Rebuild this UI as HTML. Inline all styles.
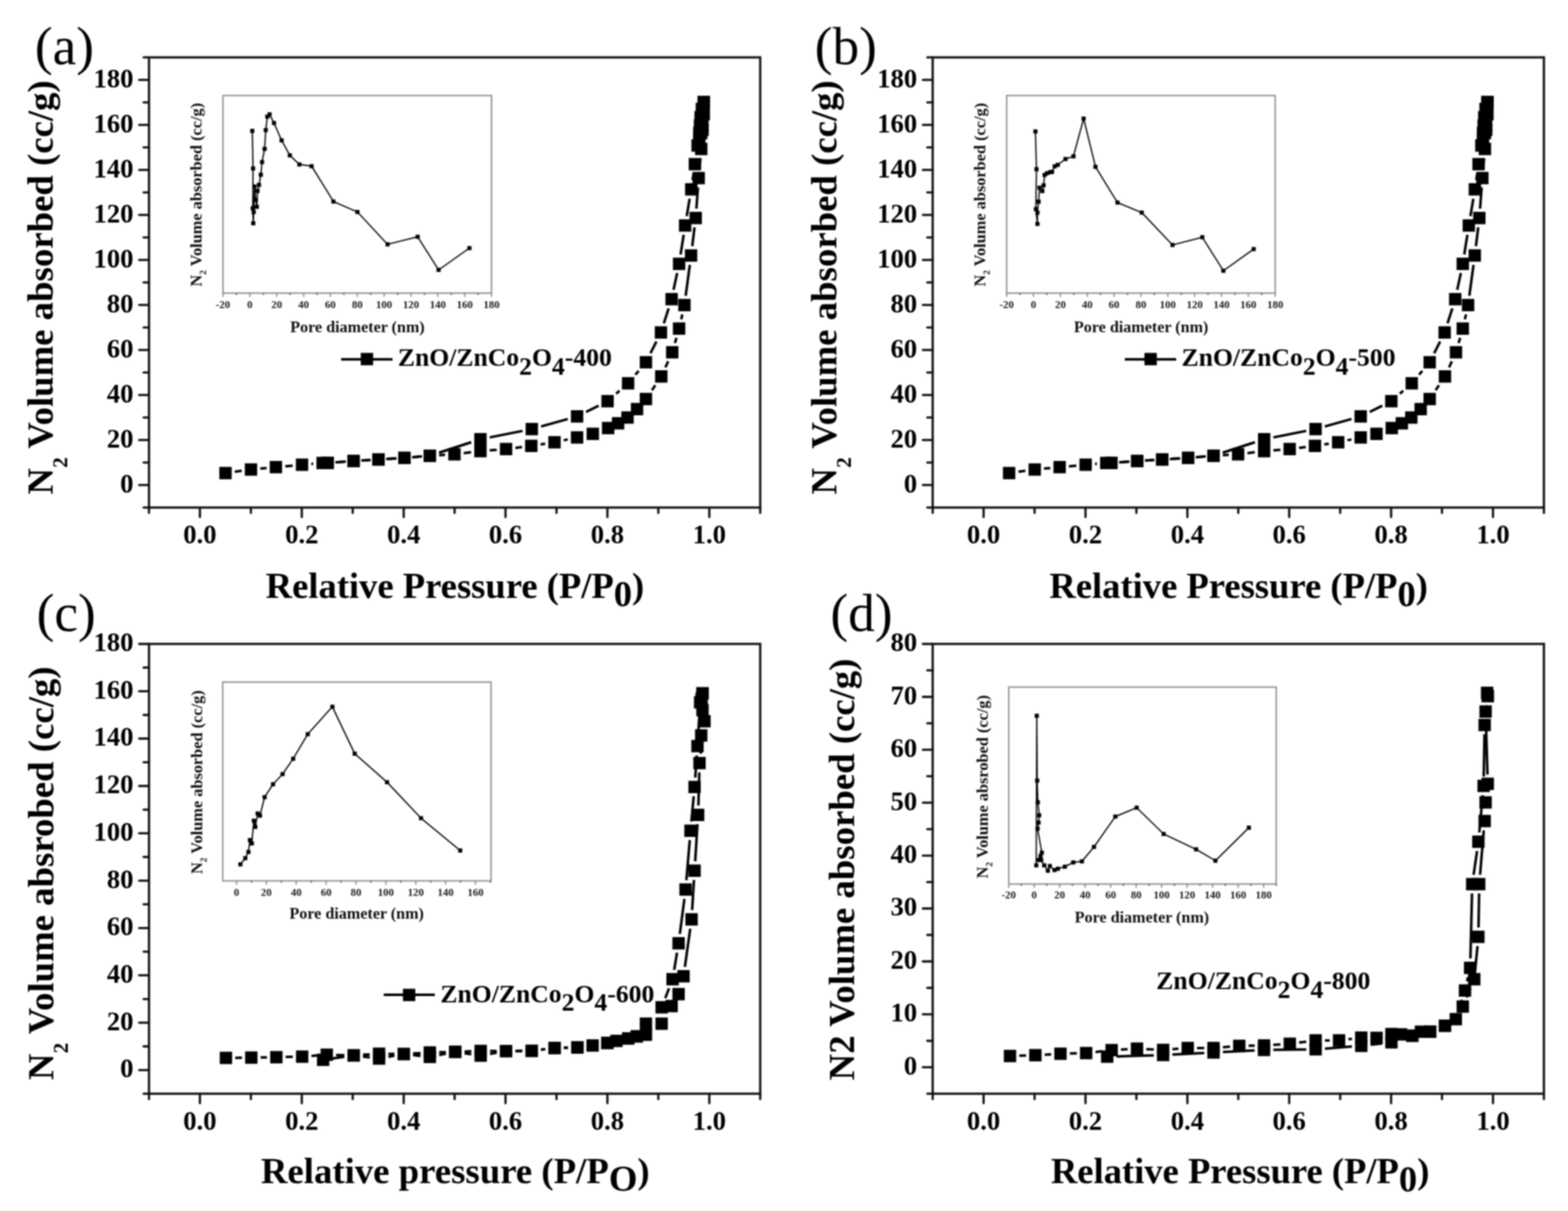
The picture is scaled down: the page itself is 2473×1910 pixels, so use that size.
<!DOCTYPE html>
<html><head><meta charset="utf-8"><title>N2 adsorption isotherms</title>
<style>html,body{margin:0;padding:0;background:#fff;}body{width:2473px;height:1910px;overflow:hidden;}svg{display:block;filter:blur(0.9px);}</style>
</head><body>
<svg width="2473" height="1910" viewBox="0 0 2473 1910" font-family="'Liberation Serif','Times New Roman',serif">
<rect width="2473" height="1910" fill="#fff"/>
<rect x="235.0" y="90.5" width="964.0" height="710.0" fill="none" stroke="#141414" stroke-width="3.6"/>
<line x1="235.0" y1="800.5" x2="235.0" y2="809.0" stroke="#141414" stroke-width="3.6" stroke-linecap="round"/>
<line x1="315.3" y1="800.5" x2="315.3" y2="815.5" stroke="#141414" stroke-width="3.6" stroke-linecap="round"/>
<text x="315.3" y="857.0" font-size="42" font-weight="bold" text-anchor="middle">0.0</text>
<line x1="395.7" y1="800.5" x2="395.7" y2="809.0" stroke="#141414" stroke-width="3.6" stroke-linecap="round"/>
<line x1="476.0" y1="800.5" x2="476.0" y2="815.5" stroke="#141414" stroke-width="3.6" stroke-linecap="round"/>
<text x="476.0" y="857.0" font-size="42" font-weight="bold" text-anchor="middle">0.2</text>
<line x1="556.3" y1="800.5" x2="556.3" y2="809.0" stroke="#141414" stroke-width="3.6" stroke-linecap="round"/>
<line x1="636.7" y1="800.5" x2="636.7" y2="815.5" stroke="#141414" stroke-width="3.6" stroke-linecap="round"/>
<text x="636.7" y="857.0" font-size="42" font-weight="bold" text-anchor="middle">0.4</text>
<line x1="717.0" y1="800.5" x2="717.0" y2="809.0" stroke="#141414" stroke-width="3.6" stroke-linecap="round"/>
<line x1="797.3" y1="800.5" x2="797.3" y2="815.5" stroke="#141414" stroke-width="3.6" stroke-linecap="round"/>
<text x="797.3" y="857.0" font-size="42" font-weight="bold" text-anchor="middle">0.6</text>
<line x1="877.7" y1="800.5" x2="877.7" y2="809.0" stroke="#141414" stroke-width="3.6" stroke-linecap="round"/>
<line x1="958.0" y1="800.5" x2="958.0" y2="815.5" stroke="#141414" stroke-width="3.6" stroke-linecap="round"/>
<text x="958.0" y="857.0" font-size="42" font-weight="bold" text-anchor="middle">0.8</text>
<line x1="1038.3" y1="800.5" x2="1038.3" y2="809.0" stroke="#141414" stroke-width="3.6" stroke-linecap="round"/>
<line x1="1118.7" y1="800.5" x2="1118.7" y2="815.5" stroke="#141414" stroke-width="3.6" stroke-linecap="round"/>
<text x="1118.7" y="857.0" font-size="42" font-weight="bold" text-anchor="middle">1.0</text>
<line x1="1199.0" y1="800.5" x2="1199.0" y2="809.0" stroke="#141414" stroke-width="3.6" stroke-linecap="round"/>
<line x1="219.5" y1="765.0" x2="235.0" y2="765.0" stroke="#141414" stroke-width="3.6" stroke-linecap="round"/>
<text x="210.5" y="776.5" font-size="42" font-weight="bold" text-anchor="end">0</text>
<line x1="219.5" y1="694.0" x2="235.0" y2="694.0" stroke="#141414" stroke-width="3.6" stroke-linecap="round"/>
<text x="210.5" y="705.5" font-size="42" font-weight="bold" text-anchor="end">20</text>
<line x1="219.5" y1="623.0" x2="235.0" y2="623.0" stroke="#141414" stroke-width="3.6" stroke-linecap="round"/>
<text x="210.5" y="634.5" font-size="42" font-weight="bold" text-anchor="end">40</text>
<line x1="219.5" y1="552.0" x2="235.0" y2="552.0" stroke="#141414" stroke-width="3.6" stroke-linecap="round"/>
<text x="210.5" y="563.5" font-size="42" font-weight="bold" text-anchor="end">60</text>
<line x1="219.5" y1="481.0" x2="235.0" y2="481.0" stroke="#141414" stroke-width="3.6" stroke-linecap="round"/>
<text x="210.5" y="492.5" font-size="42" font-weight="bold" text-anchor="end">80</text>
<line x1="219.5" y1="410.0" x2="235.0" y2="410.0" stroke="#141414" stroke-width="3.6" stroke-linecap="round"/>
<text x="210.5" y="421.5" font-size="42" font-weight="bold" text-anchor="end">100</text>
<line x1="219.5" y1="339.0" x2="235.0" y2="339.0" stroke="#141414" stroke-width="3.6" stroke-linecap="round"/>
<text x="210.5" y="350.5" font-size="42" font-weight="bold" text-anchor="end">120</text>
<line x1="219.5" y1="268.0" x2="235.0" y2="268.0" stroke="#141414" stroke-width="3.6" stroke-linecap="round"/>
<text x="210.5" y="279.5" font-size="42" font-weight="bold" text-anchor="end">140</text>
<line x1="219.5" y1="197.0" x2="235.0" y2="197.0" stroke="#141414" stroke-width="3.6" stroke-linecap="round"/>
<text x="210.5" y="208.5" font-size="42" font-weight="bold" text-anchor="end">160</text>
<line x1="219.5" y1="126.0" x2="235.0" y2="126.0" stroke="#141414" stroke-width="3.6" stroke-linecap="round"/>
<text x="210.5" y="137.5" font-size="42" font-weight="bold" text-anchor="end">180</text>
<line x1="226.5" y1="800.5" x2="235.0" y2="800.5" stroke="#141414" stroke-width="3.6" stroke-linecap="round"/>
<line x1="226.5" y1="729.5" x2="235.0" y2="729.5" stroke="#141414" stroke-width="3.6" stroke-linecap="round"/>
<line x1="226.5" y1="658.5" x2="235.0" y2="658.5" stroke="#141414" stroke-width="3.6" stroke-linecap="round"/>
<line x1="226.5" y1="587.5" x2="235.0" y2="587.5" stroke="#141414" stroke-width="3.6" stroke-linecap="round"/>
<line x1="226.5" y1="516.5" x2="235.0" y2="516.5" stroke="#141414" stroke-width="3.6" stroke-linecap="round"/>
<line x1="226.5" y1="445.5" x2="235.0" y2="445.5" stroke="#141414" stroke-width="3.6" stroke-linecap="round"/>
<line x1="226.5" y1="374.5" x2="235.0" y2="374.5" stroke="#141414" stroke-width="3.6" stroke-linecap="round"/>
<line x1="226.5" y1="303.5" x2="235.0" y2="303.5" stroke="#141414" stroke-width="3.6" stroke-linecap="round"/>
<line x1="226.5" y1="232.5" x2="235.0" y2="232.5" stroke="#141414" stroke-width="3.6" stroke-linecap="round"/>
<line x1="226.5" y1="161.5" x2="235.0" y2="161.5" stroke="#141414" stroke-width="3.6" stroke-linecap="round"/>
<line x1="226.5" y1="90.5" x2="235.0" y2="90.5" stroke="#141414" stroke-width="3.6" stroke-linecap="round"/>
<text x="55.0" y="101" font-size="84">(a)</text>
<text transform="translate(82.5,780) rotate(-90)" font-size="58" font-weight="bold">N<tspan font-size="34" dy="23">2</tspan><tspan dy="-23"> Volume absorbed (cc/g)</tspan></text>
<text x="419.0" y="943" font-size="57.7" font-weight="bold">Relative Pressure (P/P<tspan dy="13">0</tspan><tspan dy="-13">)</tspan></text>
<rect x="351.7" y="150.7" width="423.5" height="311.6" fill="none" stroke="#8c8c8c" stroke-width="2.2"/>
<line x1="351.7" y1="462.3" x2="351.7" y2="468.3" stroke="#8c8c8c" stroke-width="2"/>
<line x1="394.1" y1="462.3" x2="394.1" y2="468.3" stroke="#8c8c8c" stroke-width="2"/>
<line x1="436.4" y1="462.3" x2="436.4" y2="468.3" stroke="#8c8c8c" stroke-width="2"/>
<line x1="478.8" y1="462.3" x2="478.8" y2="468.3" stroke="#8c8c8c" stroke-width="2"/>
<line x1="521.1" y1="462.3" x2="521.1" y2="468.3" stroke="#8c8c8c" stroke-width="2"/>
<line x1="563.5" y1="462.3" x2="563.5" y2="468.3" stroke="#8c8c8c" stroke-width="2"/>
<line x1="605.8" y1="462.3" x2="605.8" y2="468.3" stroke="#8c8c8c" stroke-width="2"/>
<line x1="648.2" y1="462.3" x2="648.2" y2="468.3" stroke="#8c8c8c" stroke-width="2"/>
<line x1="690.5" y1="462.3" x2="690.5" y2="468.3" stroke="#8c8c8c" stroke-width="2"/>
<line x1="732.9" y1="462.3" x2="732.9" y2="468.3" stroke="#8c8c8c" stroke-width="2"/>
<line x1="775.2" y1="462.3" x2="775.2" y2="468.3" stroke="#8c8c8c" stroke-width="2"/>
<line x1="372.9" y1="462.3" x2="372.9" y2="465.3" stroke="#666" stroke-width="2.2"/>
<line x1="415.2" y1="462.3" x2="415.2" y2="465.3" stroke="#666" stroke-width="2.2"/>
<line x1="457.6" y1="462.3" x2="457.6" y2="465.3" stroke="#666" stroke-width="2.2"/>
<line x1="499.9" y1="462.3" x2="499.9" y2="465.3" stroke="#666" stroke-width="2.2"/>
<line x1="542.3" y1="462.3" x2="542.3" y2="465.3" stroke="#666" stroke-width="2.2"/>
<line x1="584.6" y1="462.3" x2="584.6" y2="465.3" stroke="#666" stroke-width="2.2"/>
<line x1="627.0" y1="462.3" x2="627.0" y2="465.3" stroke="#666" stroke-width="2.2"/>
<line x1="669.3" y1="462.3" x2="669.3" y2="465.3" stroke="#666" stroke-width="2.2"/>
<line x1="711.7" y1="462.3" x2="711.7" y2="465.3" stroke="#666" stroke-width="2.2"/>
<line x1="754.0" y1="462.3" x2="754.0" y2="465.3" stroke="#666" stroke-width="2.2"/>
<text x="351.7" y="485.5" font-size="17" font-weight="bold" text-anchor="middle" fill="#1a1a1a">-20</text>
<text x="394.1" y="485.5" font-size="17" font-weight="bold" text-anchor="middle" fill="#1a1a1a">0</text>
<text x="436.4" y="485.5" font-size="17" font-weight="bold" text-anchor="middle" fill="#1a1a1a">20</text>
<text x="478.8" y="485.5" font-size="17" font-weight="bold" text-anchor="middle" fill="#1a1a1a">40</text>
<text x="521.1" y="485.5" font-size="17" font-weight="bold" text-anchor="middle" fill="#1a1a1a">60</text>
<text x="563.5" y="485.5" font-size="17" font-weight="bold" text-anchor="middle" fill="#1a1a1a">80</text>
<text x="605.8" y="485.5" font-size="17" font-weight="bold" text-anchor="middle" fill="#1a1a1a">100</text>
<text x="648.2" y="485.5" font-size="17" font-weight="bold" text-anchor="middle" fill="#1a1a1a">120</text>
<text x="690.5" y="485.5" font-size="17" font-weight="bold" text-anchor="middle" fill="#1a1a1a">140</text>
<text x="732.9" y="485.5" font-size="17" font-weight="bold" text-anchor="middle" fill="#1a1a1a">160</text>
<text x="775.2" y="485.5" font-size="17" font-weight="bold" text-anchor="middle" fill="#1a1a1a">180</text>
<text x="563.8" y="524.0" font-size="25.4" font-weight="bold" text-anchor="middle" fill="#111">Pore diameter (nm)</text>
<polyline points="397.9,206.4 399.1,265.6 398.6,328.5 399.5,352.2 400.2,334.4 401.4,294.1 403.3,315.4 405.0,326.1 406.2,301.2 408.5,291.7 411.4,275.6 413.3,255.7 417.3,234.8 419.2,205.2 421.6,183.9 425.1,180.3 432.2,194.1 444.1,221.3 457.1,245.0 472.1,259.3 491.5,262.1 525.9,317.8 563.8,334.4 611.2,385.4 658.7,373.5 691.8,425.7 740.4,391.3" fill="none" stroke="#000" stroke-width="2.0" stroke-linejoin="round"/>
<rect x="394.6" y="203.2" width="6.5" height="6.5" fill="#000"/>
<rect x="395.9" y="262.4" width="6.5" height="6.5" fill="#000"/>
<rect x="395.4" y="325.2" width="6.5" height="6.5" fill="#000"/>
<rect x="396.2" y="348.9" width="6.5" height="6.5" fill="#000"/>
<rect x="396.9" y="331.1" width="6.5" height="6.5" fill="#000"/>
<rect x="398.1" y="290.9" width="6.5" height="6.5" fill="#000"/>
<rect x="400.1" y="312.1" width="6.5" height="6.5" fill="#000"/>
<rect x="401.8" y="322.9" width="6.5" height="6.5" fill="#000"/>
<rect x="402.9" y="297.9" width="6.5" height="6.5" fill="#000"/>
<rect x="405.2" y="288.4" width="6.5" height="6.5" fill="#000"/>
<rect x="408.1" y="272.4" width="6.5" height="6.5" fill="#000"/>
<rect x="410.1" y="252.4" width="6.5" height="6.5" fill="#000"/>
<rect x="414.1" y="231.6" width="6.5" height="6.5" fill="#000"/>
<rect x="415.9" y="201.9" width="6.5" height="6.5" fill="#000"/>
<rect x="418.4" y="180.7" width="6.5" height="6.5" fill="#000"/>
<rect x="421.9" y="177.1" width="6.5" height="6.5" fill="#000"/>
<rect x="428.9" y="190.8" width="6.5" height="6.5" fill="#000"/>
<rect x="440.9" y="218.1" width="6.5" height="6.5" fill="#000"/>
<rect x="453.9" y="241.8" width="6.5" height="6.5" fill="#000"/>
<rect x="468.9" y="256.1" width="6.5" height="6.5" fill="#000"/>
<rect x="488.2" y="258.9" width="6.5" height="6.5" fill="#000"/>
<rect x="522.6" y="314.6" width="6.5" height="6.5" fill="#000"/>
<rect x="560.5" y="331.1" width="6.5" height="6.5" fill="#000"/>
<rect x="608.0" y="382.1" width="6.5" height="6.5" fill="#000"/>
<rect x="655.5" y="370.2" width="6.5" height="6.5" fill="#000"/>
<rect x="688.5" y="422.4" width="6.5" height="6.5" fill="#000"/>
<rect x="737.1" y="388.1" width="6.5" height="6.5" fill="#000"/>
<text transform="translate(318.0,452.0) rotate(-90) scale(0.99,1)" font-size="26" font-weight="bold" fill="#111">N<tspan font-size="15" dy="7">2</tspan><tspan dy="-7"> Volume absorbed (cc/g)</tspan></text>
<line x1="538.0" y1="566.8" x2="619.0" y2="566.8" stroke="#000" stroke-width="4.0"/>
<rect x="569.0" y="556.6" width="19.5" height="19.5" fill="#000"/>
<text x="627.5" y="577.4" font-size="40.5" font-weight="bold">ZnO/ZnCo<tspan dy="13.6">2</tspan><tspan dy="-13.6">O</tspan><tspan dy="13.6">4</tspan><tspan dy="-13.6">-400</tspan></text>
<line x1="370.3" y1="744.1" x2="381.2" y2="742.5" stroke="#000" stroke-width="4.0"/>
<line x1="410.6" y1="739.1" x2="420.5" y2="738.2" stroke="#000" stroke-width="4.0"/>
<line x1="449.9" y1="735.4" x2="461.6" y2="734.4" stroke="#000" stroke-width="4.0"/>
<line x1="491.0" y1="731.7" x2="494.1" y2="731.5" stroke="#000" stroke-width="4.0"/>
<line x1="531.5" y1="729.1" x2="542.9" y2="728.2" stroke="#000" stroke-width="4.0"/>
<line x1="572.3" y1="726.2" x2="582.2" y2="725.5" stroke="#000" stroke-width="4.0"/>
<line x1="611.6" y1="723.8" x2="623.0" y2="723.1" stroke="#000" stroke-width="4.0"/>
<line x1="652.4" y1="721.0" x2="663.2" y2="720.0" stroke="#000" stroke-width="4.0"/>
<line x1="692.6" y1="717.9" x2="702.0" y2="717.3" stroke="#000" stroke-width="4.0"/>
<line x1="731.4" y1="714.7" x2="743.0" y2="713.3" stroke="#000" stroke-width="4.0"/>
<line x1="772.4" y1="710.3" x2="783.4" y2="709.5" stroke="#000" stroke-width="4.0"/>
<line x1="812.8" y1="706.5" x2="823.3" y2="705.1" stroke="#000" stroke-width="4.0"/>
<line x1="852.7" y1="701.0" x2="859.8" y2="699.8" stroke="#000" stroke-width="4.0"/>
<line x1="889.1" y1="694.4" x2="895.5" y2="693.1" stroke="#000" stroke-width="4.0"/>
<line x1="1028.2" y1="615.5" x2="1033.5" y2="607.7" stroke="#000" stroke-width="4.0"/>
<line x1="1049.4" y1="579.5" x2="1053.8" y2="569.9" stroke="#000" stroke-width="4.0"/>
<line x1="1064.5" y1="541.0" x2="1066.9" y2="532.9" stroke="#000" stroke-width="4.0"/>
<line x1="1074.4" y1="503.7" x2="1076.1" y2="495.8" stroke="#000" stroke-width="4.0"/>
<line x1="1081.4" y1="466.5" x2="1088.0" y2="417.7" stroke="#000" stroke-width="4.0"/>
<line x1="1091.8" y1="388.3" x2="1095.4" y2="358.5" stroke="#000" stroke-width="4.0"/>
<line x1="1098.3" y1="329.1" x2="1100.8" y2="295.5" stroke="#000" stroke-width="4.0"/>
<line x1="1103.2" y1="266.1" x2="1104.7" y2="249.7" stroke="#000" stroke-width="4.0"/>
<line x1="1093.9" y1="273.7" x2="1092.3" y2="284.0" stroke="#000" stroke-width="4.0"/>
<line x1="1087.7" y1="313.4" x2="1083.1" y2="340.9" stroke="#000" stroke-width="4.0"/>
<line x1="1078.3" y1="370.3" x2="1073.4" y2="401.4" stroke="#000" stroke-width="4.0"/>
<line x1="1068.0" y1="430.7" x2="1062.3" y2="457.2" stroke="#000" stroke-width="4.0"/>
<line x1="1054.6" y1="486.3" x2="1047.0" y2="509.9" stroke="#000" stroke-width="4.0"/>
<line x1="1035.3" y1="538.6" x2="1025.9" y2="557.2" stroke="#000" stroke-width="4.0"/>
<line x1="1007.3" y1="585.0" x2="1002.1" y2="590.9" stroke="#000" stroke-width="4.0"/>
<line x1="977.1" y1="616.3" x2="971.8" y2="621.0" stroke="#000" stroke-width="4.0"/>
<line x1="944.1" y1="639.9" x2="924.3" y2="649.7" stroke="#000" stroke-width="4.0"/>
<line x1="895.5" y1="660.9" x2="853.4" y2="672.6" stroke="#000" stroke-width="4.0"/>
<line x1="824.1" y1="679.6" x2="772.4" y2="689.9" stroke="#000" stroke-width="4.0"/>
<line x1="743.2" y1="697.5" x2="692.4" y2="714.0" stroke="#000" stroke-width="4.0"/>
<line x1="665.7" y1="719.8" x2="649.9" y2="721.2" stroke="#000" stroke-width="4.0"/>
<line x1="625.5" y1="723.0" x2="609.1" y2="723.9" stroke="#000" stroke-width="4.0"/>
<line x1="584.7" y1="725.4" x2="569.8" y2="726.3" stroke="#000" stroke-width="4.0"/>
<line x1="545.4" y1="728.0" x2="529.0" y2="729.3" stroke="#000" stroke-width="4.0"/>
<rect x="345.9" y="736.4" width="19.5" height="19.5" fill="#000"/>
<rect x="386.1" y="730.8" width="19.5" height="19.5" fill="#000"/>
<rect x="425.4" y="727.0" width="19.5" height="19.5" fill="#000"/>
<rect x="466.6" y="723.2" width="19.5" height="19.5" fill="#000"/>
<rect x="499.1" y="720.5" width="19.5" height="19.5" fill="#000"/>
<rect x="507.0" y="720.5" width="19.5" height="19.5" fill="#000"/>
<rect x="547.9" y="717.4" width="19.5" height="19.5" fill="#000"/>
<rect x="587.1" y="714.9" width="19.5" height="19.5" fill="#000"/>
<rect x="628.0" y="712.5" width="19.5" height="19.5" fill="#000"/>
<rect x="668.1" y="709.0" width="19.5" height="19.5" fill="#000"/>
<rect x="707.0" y="706.8" width="19.5" height="19.5" fill="#000"/>
<rect x="748.0" y="701.8" width="19.5" height="19.5" fill="#000"/>
<rect x="788.4" y="698.5" width="19.5" height="19.5" fill="#000"/>
<rect x="828.2" y="693.5" width="19.5" height="19.5" fill="#000"/>
<rect x="864.8" y="687.8" width="19.5" height="19.5" fill="#000"/>
<rect x="900.4" y="680.2" width="19.5" height="19.5" fill="#000"/>
<rect x="925.2" y="674.5" width="19.5" height="19.5" fill="#000"/>
<rect x="949.4" y="665.4" width="19.5" height="19.5" fill="#000"/>
<rect x="965.1" y="657.9" width="19.5" height="19.5" fill="#000"/>
<rect x="980.0" y="648.8" width="19.5" height="19.5" fill="#000"/>
<rect x="995.0" y="635.5" width="19.5" height="19.5" fill="#000"/>
<rect x="1009.0" y="619.6" width="19.5" height="19.5" fill="#000"/>
<rect x="1033.2" y="584.0" width="19.5" height="19.5" fill="#000"/>
<rect x="1050.5" y="545.9" width="19.5" height="19.5" fill="#000"/>
<rect x="1061.3" y="508.5" width="19.5" height="19.5" fill="#000"/>
<rect x="1069.7" y="471.4" width="19.5" height="19.5" fill="#000"/>
<rect x="1080.2" y="393.2" width="19.5" height="19.5" fill="#000"/>
<rect x="1087.5" y="334.1" width="19.5" height="19.5" fill="#000"/>
<rect x="1092.2" y="271.1" width="19.5" height="19.5" fill="#000"/>
<rect x="1096.2" y="225.2" width="19.5" height="19.5" fill="#000"/>
<rect x="1098.2" y="195.2" width="19.5" height="19.5" fill="#000"/>
<rect x="1100.2" y="170.2" width="19.5" height="19.5" fill="#000"/>
<rect x="1100.2" y="151.2" width="19.5" height="19.5" fill="#000"/>
<rect x="1100.2" y="151.2" width="19.5" height="19.5" fill="#000"/>
<rect x="1097.2" y="162.2" width="19.5" height="19.5" fill="#000"/>
<rect x="1095.2" y="175.2" width="19.5" height="19.5" fill="#000"/>
<rect x="1094.2" y="188.2" width="19.5" height="19.5" fill="#000"/>
<rect x="1093.2" y="200.2" width="19.5" height="19.5" fill="#000"/>
<rect x="1090.5" y="219.8" width="19.5" height="19.5" fill="#000"/>
<rect x="1086.2" y="249.2" width="19.5" height="19.5" fill="#000"/>
<rect x="1080.5" y="288.9" width="19.5" height="19.5" fill="#000"/>
<rect x="1070.8" y="345.9" width="19.5" height="19.5" fill="#000"/>
<rect x="1061.3" y="406.4" width="19.5" height="19.5" fill="#000"/>
<rect x="1049.5" y="462.1" width="19.5" height="19.5" fill="#000"/>
<rect x="1032.7" y="514.6" width="19.5" height="19.5" fill="#000"/>
<rect x="1009.0" y="561.6" width="19.5" height="19.5" fill="#000"/>
<rect x="980.9" y="594.8" width="19.5" height="19.5" fill="#000"/>
<rect x="948.5" y="623.0" width="19.5" height="19.5" fill="#000"/>
<rect x="900.4" y="647.0" width="19.5" height="19.5" fill="#000"/>
<rect x="829.0" y="667.0" width="19.5" height="19.5" fill="#000"/>
<rect x="748.0" y="683.0" width="19.5" height="19.5" fill="#000"/>
<rect x="668.1" y="709.0" width="19.5" height="19.5" fill="#000"/>
<rect x="628.0" y="712.5" width="19.5" height="19.5" fill="#000"/>
<rect x="587.1" y="714.9" width="19.5" height="19.5" fill="#000"/>
<rect x="547.9" y="717.4" width="19.5" height="19.5" fill="#000"/>
<rect x="507.0" y="720.5" width="19.5" height="19.5" fill="#000"/>
<rect x="1098.2" y="162.2" width="19.5" height="19.5" fill="#000"/>
<rect x="1096.2" y="175.2" width="19.5" height="19.5" fill="#000"/>
<rect x="1098.2" y="188.2" width="19.5" height="19.5" fill="#000"/>
<rect x="1096.2" y="200.2" width="19.5" height="19.5" fill="#000"/>
<rect x="1093.2" y="210.2" width="19.5" height="19.5" fill="#000"/>
<rect x="1471.0" y="90.5" width="964.0" height="710.0" fill="none" stroke="#141414" stroke-width="3.6"/>
<line x1="1471.0" y1="800.5" x2="1471.0" y2="809.0" stroke="#141414" stroke-width="3.6" stroke-linecap="round"/>
<line x1="1551.3" y1="800.5" x2="1551.3" y2="815.5" stroke="#141414" stroke-width="3.6" stroke-linecap="round"/>
<text x="1551.3" y="857.0" font-size="42" font-weight="bold" text-anchor="middle">0.0</text>
<line x1="1631.7" y1="800.5" x2="1631.7" y2="809.0" stroke="#141414" stroke-width="3.6" stroke-linecap="round"/>
<line x1="1712.0" y1="800.5" x2="1712.0" y2="815.5" stroke="#141414" stroke-width="3.6" stroke-linecap="round"/>
<text x="1712.0" y="857.0" font-size="42" font-weight="bold" text-anchor="middle">0.2</text>
<line x1="1792.3" y1="800.5" x2="1792.3" y2="809.0" stroke="#141414" stroke-width="3.6" stroke-linecap="round"/>
<line x1="1872.7" y1="800.5" x2="1872.7" y2="815.5" stroke="#141414" stroke-width="3.6" stroke-linecap="round"/>
<text x="1872.7" y="857.0" font-size="42" font-weight="bold" text-anchor="middle">0.4</text>
<line x1="1953.0" y1="800.5" x2="1953.0" y2="809.0" stroke="#141414" stroke-width="3.6" stroke-linecap="round"/>
<line x1="2033.3" y1="800.5" x2="2033.3" y2="815.5" stroke="#141414" stroke-width="3.6" stroke-linecap="round"/>
<text x="2033.3" y="857.0" font-size="42" font-weight="bold" text-anchor="middle">0.6</text>
<line x1="2113.7" y1="800.5" x2="2113.7" y2="809.0" stroke="#141414" stroke-width="3.6" stroke-linecap="round"/>
<line x1="2194.0" y1="800.5" x2="2194.0" y2="815.5" stroke="#141414" stroke-width="3.6" stroke-linecap="round"/>
<text x="2194.0" y="857.0" font-size="42" font-weight="bold" text-anchor="middle">0.8</text>
<line x1="2274.3" y1="800.5" x2="2274.3" y2="809.0" stroke="#141414" stroke-width="3.6" stroke-linecap="round"/>
<line x1="2354.7" y1="800.5" x2="2354.7" y2="815.5" stroke="#141414" stroke-width="3.6" stroke-linecap="round"/>
<text x="2354.7" y="857.0" font-size="42" font-weight="bold" text-anchor="middle">1.0</text>
<line x1="2435.0" y1="800.5" x2="2435.0" y2="809.0" stroke="#141414" stroke-width="3.6" stroke-linecap="round"/>
<line x1="1455.5" y1="765.0" x2="1471.0" y2="765.0" stroke="#141414" stroke-width="3.6" stroke-linecap="round"/>
<text x="1446.5" y="776.5" font-size="42" font-weight="bold" text-anchor="end">0</text>
<line x1="1455.5" y1="694.0" x2="1471.0" y2="694.0" stroke="#141414" stroke-width="3.6" stroke-linecap="round"/>
<text x="1446.5" y="705.5" font-size="42" font-weight="bold" text-anchor="end">20</text>
<line x1="1455.5" y1="623.0" x2="1471.0" y2="623.0" stroke="#141414" stroke-width="3.6" stroke-linecap="round"/>
<text x="1446.5" y="634.5" font-size="42" font-weight="bold" text-anchor="end">40</text>
<line x1="1455.5" y1="552.0" x2="1471.0" y2="552.0" stroke="#141414" stroke-width="3.6" stroke-linecap="round"/>
<text x="1446.5" y="563.5" font-size="42" font-weight="bold" text-anchor="end">60</text>
<line x1="1455.5" y1="481.0" x2="1471.0" y2="481.0" stroke="#141414" stroke-width="3.6" stroke-linecap="round"/>
<text x="1446.5" y="492.5" font-size="42" font-weight="bold" text-anchor="end">80</text>
<line x1="1455.5" y1="410.0" x2="1471.0" y2="410.0" stroke="#141414" stroke-width="3.6" stroke-linecap="round"/>
<text x="1446.5" y="421.5" font-size="42" font-weight="bold" text-anchor="end">100</text>
<line x1="1455.5" y1="339.0" x2="1471.0" y2="339.0" stroke="#141414" stroke-width="3.6" stroke-linecap="round"/>
<text x="1446.5" y="350.5" font-size="42" font-weight="bold" text-anchor="end">120</text>
<line x1="1455.5" y1="268.0" x2="1471.0" y2="268.0" stroke="#141414" stroke-width="3.6" stroke-linecap="round"/>
<text x="1446.5" y="279.5" font-size="42" font-weight="bold" text-anchor="end">140</text>
<line x1="1455.5" y1="197.0" x2="1471.0" y2="197.0" stroke="#141414" stroke-width="3.6" stroke-linecap="round"/>
<text x="1446.5" y="208.5" font-size="42" font-weight="bold" text-anchor="end">160</text>
<line x1="1455.5" y1="126.0" x2="1471.0" y2="126.0" stroke="#141414" stroke-width="3.6" stroke-linecap="round"/>
<text x="1446.5" y="137.5" font-size="42" font-weight="bold" text-anchor="end">180</text>
<line x1="1462.5" y1="800.5" x2="1471.0" y2="800.5" stroke="#141414" stroke-width="3.6" stroke-linecap="round"/>
<line x1="1462.5" y1="729.5" x2="1471.0" y2="729.5" stroke="#141414" stroke-width="3.6" stroke-linecap="round"/>
<line x1="1462.5" y1="658.5" x2="1471.0" y2="658.5" stroke="#141414" stroke-width="3.6" stroke-linecap="round"/>
<line x1="1462.5" y1="587.5" x2="1471.0" y2="587.5" stroke="#141414" stroke-width="3.6" stroke-linecap="round"/>
<line x1="1462.5" y1="516.5" x2="1471.0" y2="516.5" stroke="#141414" stroke-width="3.6" stroke-linecap="round"/>
<line x1="1462.5" y1="445.5" x2="1471.0" y2="445.5" stroke="#141414" stroke-width="3.6" stroke-linecap="round"/>
<line x1="1462.5" y1="374.5" x2="1471.0" y2="374.5" stroke="#141414" stroke-width="3.6" stroke-linecap="round"/>
<line x1="1462.5" y1="303.5" x2="1471.0" y2="303.5" stroke="#141414" stroke-width="3.6" stroke-linecap="round"/>
<line x1="1462.5" y1="232.5" x2="1471.0" y2="232.5" stroke="#141414" stroke-width="3.6" stroke-linecap="round"/>
<line x1="1462.5" y1="161.5" x2="1471.0" y2="161.5" stroke="#141414" stroke-width="3.6" stroke-linecap="round"/>
<line x1="1462.5" y1="90.5" x2="1471.0" y2="90.5" stroke="#141414" stroke-width="3.6" stroke-linecap="round"/>
<text x="1285.0" y="101" font-size="84">(b)</text>
<text transform="translate(1318.5,780) rotate(-90)" font-size="58" font-weight="bold">N<tspan font-size="34" dy="23">2</tspan><tspan dy="-23"> Volume absorbed (cc/g)</tspan></text>
<text x="1655.0" y="943" font-size="57.7" font-weight="bold">Relative Pressure (P/P<tspan dy="13">0</tspan><tspan dy="-13">)</tspan></text>
<rect x="1587.7" y="150.7" width="423.5" height="311.6" fill="none" stroke="#8c8c8c" stroke-width="2.2"/>
<line x1="1587.7" y1="462.3" x2="1587.7" y2="468.3" stroke="#8c8c8c" stroke-width="2"/>
<line x1="1630.0" y1="462.3" x2="1630.0" y2="468.3" stroke="#8c8c8c" stroke-width="2"/>
<line x1="1672.4" y1="462.3" x2="1672.4" y2="468.3" stroke="#8c8c8c" stroke-width="2"/>
<line x1="1714.8" y1="462.3" x2="1714.8" y2="468.3" stroke="#8c8c8c" stroke-width="2"/>
<line x1="1757.1" y1="462.3" x2="1757.1" y2="468.3" stroke="#8c8c8c" stroke-width="2"/>
<line x1="1799.5" y1="462.3" x2="1799.5" y2="468.3" stroke="#8c8c8c" stroke-width="2"/>
<line x1="1841.8" y1="462.3" x2="1841.8" y2="468.3" stroke="#8c8c8c" stroke-width="2"/>
<line x1="1884.2" y1="462.3" x2="1884.2" y2="468.3" stroke="#8c8c8c" stroke-width="2"/>
<line x1="1926.5" y1="462.3" x2="1926.5" y2="468.3" stroke="#8c8c8c" stroke-width="2"/>
<line x1="1968.8" y1="462.3" x2="1968.8" y2="468.3" stroke="#8c8c8c" stroke-width="2"/>
<line x1="2011.2" y1="462.3" x2="2011.2" y2="468.3" stroke="#8c8c8c" stroke-width="2"/>
<line x1="1608.9" y1="462.3" x2="1608.9" y2="465.3" stroke="#666" stroke-width="2.2"/>
<line x1="1651.2" y1="462.3" x2="1651.2" y2="465.3" stroke="#666" stroke-width="2.2"/>
<line x1="1693.6" y1="462.3" x2="1693.6" y2="465.3" stroke="#666" stroke-width="2.2"/>
<line x1="1735.9" y1="462.3" x2="1735.9" y2="465.3" stroke="#666" stroke-width="2.2"/>
<line x1="1778.3" y1="462.3" x2="1778.3" y2="465.3" stroke="#666" stroke-width="2.2"/>
<line x1="1820.6" y1="462.3" x2="1820.6" y2="465.3" stroke="#666" stroke-width="2.2"/>
<line x1="1863.0" y1="462.3" x2="1863.0" y2="465.3" stroke="#666" stroke-width="2.2"/>
<line x1="1905.3" y1="462.3" x2="1905.3" y2="465.3" stroke="#666" stroke-width="2.2"/>
<line x1="1947.7" y1="462.3" x2="1947.7" y2="465.3" stroke="#666" stroke-width="2.2"/>
<line x1="1990.0" y1="462.3" x2="1990.0" y2="465.3" stroke="#666" stroke-width="2.2"/>
<text x="1587.7" y="485.5" font-size="17" font-weight="bold" text-anchor="middle" fill="#1a1a1a">-20</text>
<text x="1630.0" y="485.5" font-size="17" font-weight="bold" text-anchor="middle" fill="#1a1a1a">0</text>
<text x="1672.4" y="485.5" font-size="17" font-weight="bold" text-anchor="middle" fill="#1a1a1a">20</text>
<text x="1714.8" y="485.5" font-size="17" font-weight="bold" text-anchor="middle" fill="#1a1a1a">40</text>
<text x="1757.1" y="485.5" font-size="17" font-weight="bold" text-anchor="middle" fill="#1a1a1a">60</text>
<text x="1799.5" y="485.5" font-size="17" font-weight="bold" text-anchor="middle" fill="#1a1a1a">80</text>
<text x="1841.8" y="485.5" font-size="17" font-weight="bold" text-anchor="middle" fill="#1a1a1a">100</text>
<text x="1884.2" y="485.5" font-size="17" font-weight="bold" text-anchor="middle" fill="#1a1a1a">120</text>
<text x="1926.5" y="485.5" font-size="17" font-weight="bold" text-anchor="middle" fill="#1a1a1a">140</text>
<text x="1968.8" y="485.5" font-size="17" font-weight="bold" text-anchor="middle" fill="#1a1a1a">160</text>
<text x="2011.2" y="485.5" font-size="17" font-weight="bold" text-anchor="middle" fill="#1a1a1a">180</text>
<text x="1799.8" y="524.0" font-size="25.4" font-weight="bold" text-anchor="middle" fill="#111">Pore diameter (nm)</text>
<polyline points="1633.0,207.3 1634.7,266.8 1633.7,329.8 1636.2,353.1 1636.2,335.3 1638.0,318.0 1639.6,296.0 1643.9,301.3 1645.9,292.3 1647.6,275.8 1651.2,273.4 1656.1,271.7 1659.2,271.0 1663.4,262.4 1668.2,260.0 1680.4,250.8 1693.0,246.6 1709.1,187.1 1727.8,263.2 1762.5,319.5 1800.7,335.3 1849.3,386.4 1896.2,374.2 1929.5,427.0 1977.3,392.9" fill="none" stroke="#000" stroke-width="2.0" stroke-linejoin="round"/>
<rect x="1629.8" y="204.1" width="6.5" height="6.5" fill="#000"/>
<rect x="1631.5" y="263.6" width="6.5" height="6.5" fill="#000"/>
<rect x="1630.5" y="326.6" width="6.5" height="6.5" fill="#000"/>
<rect x="1633.0" y="349.9" width="6.5" height="6.5" fill="#000"/>
<rect x="1633.0" y="332.1" width="6.5" height="6.5" fill="#000"/>
<rect x="1634.8" y="314.8" width="6.5" height="6.5" fill="#000"/>
<rect x="1636.3" y="292.8" width="6.5" height="6.5" fill="#000"/>
<rect x="1640.7" y="298.1" width="6.5" height="6.5" fill="#000"/>
<rect x="1642.7" y="289.1" width="6.5" height="6.5" fill="#000"/>
<rect x="1644.3" y="272.6" width="6.5" height="6.5" fill="#000"/>
<rect x="1648.0" y="270.1" width="6.5" height="6.5" fill="#000"/>
<rect x="1652.8" y="268.4" width="6.5" height="6.5" fill="#000"/>
<rect x="1656.0" y="267.8" width="6.5" height="6.5" fill="#000"/>
<rect x="1660.2" y="259.1" width="6.5" height="6.5" fill="#000"/>
<rect x="1665.0" y="256.8" width="6.5" height="6.5" fill="#000"/>
<rect x="1677.2" y="247.6" width="6.5" height="6.5" fill="#000"/>
<rect x="1689.8" y="243.3" width="6.5" height="6.5" fill="#000"/>
<rect x="1705.8" y="183.8" width="6.5" height="6.5" fill="#000"/>
<rect x="1724.5" y="259.9" width="6.5" height="6.5" fill="#000"/>
<rect x="1759.2" y="316.2" width="6.5" height="6.5" fill="#000"/>
<rect x="1797.5" y="332.1" width="6.5" height="6.5" fill="#000"/>
<rect x="1846.0" y="383.1" width="6.5" height="6.5" fill="#000"/>
<rect x="1893.0" y="370.9" width="6.5" height="6.5" fill="#000"/>
<rect x="1926.2" y="423.8" width="6.5" height="6.5" fill="#000"/>
<rect x="1974.0" y="389.6" width="6.5" height="6.5" fill="#000"/>
<text transform="translate(1554.0,452.0) rotate(-90) scale(0.99,1)" font-size="26" font-weight="bold" fill="#111">N<tspan font-size="15" dy="7">2</tspan><tspan dy="-7"> Volume absorbed (cc/g)</tspan></text>
<line x1="1774.0" y1="566.8" x2="1855.0" y2="566.8" stroke="#000" stroke-width="4.0"/>
<rect x="1805.0" y="556.6" width="19.5" height="19.5" fill="#000"/>
<text x="1863.5" y="577.4" font-size="40.5" font-weight="bold">ZnO/ZnCo<tspan dy="13.6">2</tspan><tspan dy="-13.6">O</tspan><tspan dy="13.6">4</tspan><tspan dy="-13.6">-500</tspan></text>
<line x1="1606.3" y1="744.1" x2="1617.2" y2="742.5" stroke="#000" stroke-width="4.0"/>
<line x1="1646.6" y1="739.1" x2="1656.5" y2="738.2" stroke="#000" stroke-width="4.0"/>
<line x1="1685.9" y1="735.4" x2="1697.6" y2="734.4" stroke="#000" stroke-width="4.0"/>
<line x1="1727.0" y1="731.7" x2="1730.1" y2="731.5" stroke="#000" stroke-width="4.0"/>
<line x1="1767.5" y1="729.1" x2="1778.9" y2="728.2" stroke="#000" stroke-width="4.0"/>
<line x1="1808.3" y1="726.2" x2="1818.2" y2="725.5" stroke="#000" stroke-width="4.0"/>
<line x1="1847.6" y1="723.8" x2="1859.0" y2="723.1" stroke="#000" stroke-width="4.0"/>
<line x1="1888.4" y1="721.0" x2="1899.2" y2="720.0" stroke="#000" stroke-width="4.0"/>
<line x1="1928.6" y1="717.9" x2="1938.0" y2="717.3" stroke="#000" stroke-width="4.0"/>
<line x1="1967.4" y1="714.7" x2="1979.0" y2="713.3" stroke="#000" stroke-width="4.0"/>
<line x1="2008.4" y1="710.3" x2="2019.4" y2="709.5" stroke="#000" stroke-width="4.0"/>
<line x1="2048.8" y1="706.5" x2="2059.3" y2="705.1" stroke="#000" stroke-width="4.0"/>
<line x1="2088.7" y1="701.0" x2="2095.8" y2="699.8" stroke="#000" stroke-width="4.0"/>
<line x1="2125.1" y1="694.4" x2="2131.5" y2="693.1" stroke="#000" stroke-width="4.0"/>
<line x1="2264.2" y1="615.5" x2="2269.5" y2="607.7" stroke="#000" stroke-width="4.0"/>
<line x1="2285.4" y1="579.5" x2="2289.8" y2="569.9" stroke="#000" stroke-width="4.0"/>
<line x1="2300.5" y1="541.0" x2="2302.9" y2="532.9" stroke="#000" stroke-width="4.0"/>
<line x1="2310.4" y1="503.7" x2="2312.1" y2="495.8" stroke="#000" stroke-width="4.0"/>
<line x1="2317.4" y1="466.5" x2="2324.0" y2="417.7" stroke="#000" stroke-width="4.0"/>
<line x1="2327.8" y1="388.3" x2="2331.4" y2="358.5" stroke="#000" stroke-width="4.0"/>
<line x1="2334.3" y1="329.1" x2="2336.8" y2="295.5" stroke="#000" stroke-width="4.0"/>
<line x1="2339.2" y1="266.1" x2="2340.7" y2="249.7" stroke="#000" stroke-width="4.0"/>
<line x1="2329.9" y1="273.7" x2="2328.3" y2="284.0" stroke="#000" stroke-width="4.0"/>
<line x1="2323.7" y1="313.4" x2="2319.1" y2="340.9" stroke="#000" stroke-width="4.0"/>
<line x1="2314.3" y1="370.3" x2="2309.4" y2="401.4" stroke="#000" stroke-width="4.0"/>
<line x1="2304.0" y1="430.7" x2="2298.3" y2="457.2" stroke="#000" stroke-width="4.0"/>
<line x1="2290.6" y1="486.3" x2="2283.0" y2="509.9" stroke="#000" stroke-width="4.0"/>
<line x1="2271.3" y1="538.6" x2="2261.9" y2="557.2" stroke="#000" stroke-width="4.0"/>
<line x1="2243.3" y1="585.0" x2="2238.1" y2="590.9" stroke="#000" stroke-width="4.0"/>
<line x1="2213.1" y1="616.3" x2="2207.8" y2="621.0" stroke="#000" stroke-width="4.0"/>
<line x1="2180.1" y1="639.9" x2="2160.3" y2="649.7" stroke="#000" stroke-width="4.0"/>
<line x1="2131.5" y1="660.9" x2="2089.4" y2="672.6" stroke="#000" stroke-width="4.0"/>
<line x1="2060.1" y1="679.6" x2="2008.4" y2="689.9" stroke="#000" stroke-width="4.0"/>
<line x1="1979.2" y1="697.5" x2="1928.4" y2="714.0" stroke="#000" stroke-width="4.0"/>
<line x1="1901.7" y1="719.8" x2="1885.9" y2="721.2" stroke="#000" stroke-width="4.0"/>
<line x1="1861.5" y1="723.0" x2="1845.1" y2="723.9" stroke="#000" stroke-width="4.0"/>
<line x1="1820.7" y1="725.4" x2="1805.8" y2="726.3" stroke="#000" stroke-width="4.0"/>
<line x1="1781.4" y1="728.0" x2="1765.0" y2="729.3" stroke="#000" stroke-width="4.0"/>
<rect x="1581.8" y="736.4" width="19.5" height="19.5" fill="#000"/>
<rect x="1622.2" y="730.8" width="19.5" height="19.5" fill="#000"/>
<rect x="1661.5" y="727.0" width="19.5" height="19.5" fill="#000"/>
<rect x="1702.5" y="723.2" width="19.5" height="19.5" fill="#000"/>
<rect x="1735.0" y="720.5" width="19.5" height="19.5" fill="#000"/>
<rect x="1743.0" y="720.5" width="19.5" height="19.5" fill="#000"/>
<rect x="1783.8" y="717.4" width="19.5" height="19.5" fill="#000"/>
<rect x="1823.2" y="714.9" width="19.5" height="19.5" fill="#000"/>
<rect x="1864.0" y="712.5" width="19.5" height="19.5" fill="#000"/>
<rect x="1904.2" y="709.0" width="19.5" height="19.5" fill="#000"/>
<rect x="1943.0" y="706.8" width="19.5" height="19.5" fill="#000"/>
<rect x="1984.0" y="701.8" width="19.5" height="19.5" fill="#000"/>
<rect x="2024.3" y="698.5" width="19.5" height="19.5" fill="#000"/>
<rect x="2064.2" y="693.5" width="19.5" height="19.5" fill="#000"/>
<rect x="2100.8" y="687.8" width="19.5" height="19.5" fill="#000"/>
<rect x="2136.3" y="680.2" width="19.5" height="19.5" fill="#000"/>
<rect x="2161.2" y="674.5" width="19.5" height="19.5" fill="#000"/>
<rect x="2185.3" y="665.4" width="19.5" height="19.5" fill="#000"/>
<rect x="2201.2" y="657.9" width="19.5" height="19.5" fill="#000"/>
<rect x="2216.1" y="648.8" width="19.5" height="19.5" fill="#000"/>
<rect x="2230.9" y="635.5" width="19.5" height="19.5" fill="#000"/>
<rect x="2245.1" y="619.6" width="19.5" height="19.5" fill="#000"/>
<rect x="2269.2" y="584.0" width="19.5" height="19.5" fill="#000"/>
<rect x="2286.6" y="545.9" width="19.5" height="19.5" fill="#000"/>
<rect x="2297.3" y="508.5" width="19.5" height="19.5" fill="#000"/>
<rect x="2305.7" y="471.4" width="19.5" height="19.5" fill="#000"/>
<rect x="2316.2" y="393.2" width="19.5" height="19.5" fill="#000"/>
<rect x="2323.4" y="334.1" width="19.5" height="19.5" fill="#000"/>
<rect x="2328.2" y="271.1" width="19.5" height="19.5" fill="#000"/>
<rect x="2332.2" y="225.2" width="19.5" height="19.5" fill="#000"/>
<rect x="2334.2" y="195.2" width="19.5" height="19.5" fill="#000"/>
<rect x="2336.2" y="170.2" width="19.5" height="19.5" fill="#000"/>
<rect x="2336.2" y="151.2" width="19.5" height="19.5" fill="#000"/>
<rect x="2336.2" y="151.2" width="19.5" height="19.5" fill="#000"/>
<rect x="2333.2" y="162.2" width="19.5" height="19.5" fill="#000"/>
<rect x="2331.2" y="175.2" width="19.5" height="19.5" fill="#000"/>
<rect x="2330.2" y="188.2" width="19.5" height="19.5" fill="#000"/>
<rect x="2329.2" y="200.2" width="19.5" height="19.5" fill="#000"/>
<rect x="2326.6" y="219.8" width="19.5" height="19.5" fill="#000"/>
<rect x="2322.2" y="249.2" width="19.5" height="19.5" fill="#000"/>
<rect x="2316.4" y="288.9" width="19.5" height="19.5" fill="#000"/>
<rect x="2306.8" y="345.9" width="19.5" height="19.5" fill="#000"/>
<rect x="2297.3" y="406.4" width="19.5" height="19.5" fill="#000"/>
<rect x="2285.4" y="462.1" width="19.5" height="19.5" fill="#000"/>
<rect x="2268.7" y="514.6" width="19.5" height="19.5" fill="#000"/>
<rect x="2245.1" y="561.6" width="19.5" height="19.5" fill="#000"/>
<rect x="2216.8" y="594.8" width="19.5" height="19.5" fill="#000"/>
<rect x="2184.6" y="623.0" width="19.5" height="19.5" fill="#000"/>
<rect x="2136.3" y="647.0" width="19.5" height="19.5" fill="#000"/>
<rect x="2065.1" y="667.0" width="19.5" height="19.5" fill="#000"/>
<rect x="1984.0" y="683.0" width="19.5" height="19.5" fill="#000"/>
<rect x="1904.2" y="709.0" width="19.5" height="19.5" fill="#000"/>
<rect x="1864.0" y="712.5" width="19.5" height="19.5" fill="#000"/>
<rect x="1823.2" y="714.9" width="19.5" height="19.5" fill="#000"/>
<rect x="1783.8" y="717.4" width="19.5" height="19.5" fill="#000"/>
<rect x="1743.0" y="720.5" width="19.5" height="19.5" fill="#000"/>
<rect x="2334.2" y="162.2" width="19.5" height="19.5" fill="#000"/>
<rect x="2332.2" y="175.2" width="19.5" height="19.5" fill="#000"/>
<rect x="2334.2" y="188.2" width="19.5" height="19.5" fill="#000"/>
<rect x="2332.2" y="200.2" width="19.5" height="19.5" fill="#000"/>
<rect x="2329.2" y="210.2" width="19.5" height="19.5" fill="#000"/>
<rect x="235.0" y="1015.6" width="964.0" height="709.4" fill="none" stroke="#141414" stroke-width="3.6"/>
<line x1="235.0" y1="1725.0" x2="235.0" y2="1733.5" stroke="#141414" stroke-width="3.6" stroke-linecap="round"/>
<line x1="315.3" y1="1725.0" x2="315.3" y2="1740.0" stroke="#141414" stroke-width="3.6" stroke-linecap="round"/>
<text x="315.3" y="1781.5" font-size="42" font-weight="bold" text-anchor="middle">0.0</text>
<line x1="395.7" y1="1725.0" x2="395.7" y2="1733.5" stroke="#141414" stroke-width="3.6" stroke-linecap="round"/>
<line x1="476.0" y1="1725.0" x2="476.0" y2="1740.0" stroke="#141414" stroke-width="3.6" stroke-linecap="round"/>
<text x="476.0" y="1781.5" font-size="42" font-weight="bold" text-anchor="middle">0.2</text>
<line x1="556.3" y1="1725.0" x2="556.3" y2="1733.5" stroke="#141414" stroke-width="3.6" stroke-linecap="round"/>
<line x1="636.7" y1="1725.0" x2="636.7" y2="1740.0" stroke="#141414" stroke-width="3.6" stroke-linecap="round"/>
<text x="636.7" y="1781.5" font-size="42" font-weight="bold" text-anchor="middle">0.4</text>
<line x1="717.0" y1="1725.0" x2="717.0" y2="1733.5" stroke="#141414" stroke-width="3.6" stroke-linecap="round"/>
<line x1="797.3" y1="1725.0" x2="797.3" y2="1740.0" stroke="#141414" stroke-width="3.6" stroke-linecap="round"/>
<text x="797.3" y="1781.5" font-size="42" font-weight="bold" text-anchor="middle">0.6</text>
<line x1="877.7" y1="1725.0" x2="877.7" y2="1733.5" stroke="#141414" stroke-width="3.6" stroke-linecap="round"/>
<line x1="958.0" y1="1725.0" x2="958.0" y2="1740.0" stroke="#141414" stroke-width="3.6" stroke-linecap="round"/>
<text x="958.0" y="1781.5" font-size="42" font-weight="bold" text-anchor="middle">0.8</text>
<line x1="1038.3" y1="1725.0" x2="1038.3" y2="1733.5" stroke="#141414" stroke-width="3.6" stroke-linecap="round"/>
<line x1="1118.7" y1="1725.0" x2="1118.7" y2="1740.0" stroke="#141414" stroke-width="3.6" stroke-linecap="round"/>
<text x="1118.7" y="1781.5" font-size="42" font-weight="bold" text-anchor="middle">1.0</text>
<line x1="1199.0" y1="1725.0" x2="1199.0" y2="1733.5" stroke="#141414" stroke-width="3.6" stroke-linecap="round"/>
<line x1="219.5" y1="1687.7" x2="235.0" y2="1687.7" stroke="#141414" stroke-width="3.6" stroke-linecap="round"/>
<text x="210.5" y="1699.2" font-size="42" font-weight="bold" text-anchor="end">0</text>
<line x1="219.5" y1="1613.0" x2="235.0" y2="1613.0" stroke="#141414" stroke-width="3.6" stroke-linecap="round"/>
<text x="210.5" y="1624.5" font-size="42" font-weight="bold" text-anchor="end">20</text>
<line x1="219.5" y1="1538.3" x2="235.0" y2="1538.3" stroke="#141414" stroke-width="3.6" stroke-linecap="round"/>
<text x="210.5" y="1549.8" font-size="42" font-weight="bold" text-anchor="end">40</text>
<line x1="219.5" y1="1463.7" x2="235.0" y2="1463.7" stroke="#141414" stroke-width="3.6" stroke-linecap="round"/>
<text x="210.5" y="1475.2" font-size="42" font-weight="bold" text-anchor="end">60</text>
<line x1="219.5" y1="1389.0" x2="235.0" y2="1389.0" stroke="#141414" stroke-width="3.6" stroke-linecap="round"/>
<text x="210.5" y="1400.5" font-size="42" font-weight="bold" text-anchor="end">80</text>
<line x1="219.5" y1="1314.3" x2="235.0" y2="1314.3" stroke="#141414" stroke-width="3.6" stroke-linecap="round"/>
<text x="210.5" y="1325.8" font-size="42" font-weight="bold" text-anchor="end">100</text>
<line x1="219.5" y1="1239.6" x2="235.0" y2="1239.6" stroke="#141414" stroke-width="3.6" stroke-linecap="round"/>
<text x="210.5" y="1251.1" font-size="42" font-weight="bold" text-anchor="end">120</text>
<line x1="219.5" y1="1164.9" x2="235.0" y2="1164.9" stroke="#141414" stroke-width="3.6" stroke-linecap="round"/>
<text x="210.5" y="1176.4" font-size="42" font-weight="bold" text-anchor="end">140</text>
<line x1="219.5" y1="1090.3" x2="235.0" y2="1090.3" stroke="#141414" stroke-width="3.6" stroke-linecap="round"/>
<text x="210.5" y="1101.8" font-size="42" font-weight="bold" text-anchor="end">160</text>
<line x1="219.5" y1="1015.6" x2="235.0" y2="1015.6" stroke="#141414" stroke-width="3.6" stroke-linecap="round"/>
<text x="210.5" y="1027.1" font-size="42" font-weight="bold" text-anchor="end">180</text>
<line x1="226.5" y1="1725.0" x2="235.0" y2="1725.0" stroke="#141414" stroke-width="3.6" stroke-linecap="round"/>
<line x1="226.5" y1="1650.4" x2="235.0" y2="1650.4" stroke="#141414" stroke-width="3.6" stroke-linecap="round"/>
<line x1="226.5" y1="1575.7" x2="235.0" y2="1575.7" stroke="#141414" stroke-width="3.6" stroke-linecap="round"/>
<line x1="226.5" y1="1501.0" x2="235.0" y2="1501.0" stroke="#141414" stroke-width="3.6" stroke-linecap="round"/>
<line x1="226.5" y1="1426.3" x2="235.0" y2="1426.3" stroke="#141414" stroke-width="3.6" stroke-linecap="round"/>
<line x1="226.5" y1="1351.6" x2="235.0" y2="1351.6" stroke="#141414" stroke-width="3.6" stroke-linecap="round"/>
<line x1="226.5" y1="1277.0" x2="235.0" y2="1277.0" stroke="#141414" stroke-width="3.6" stroke-linecap="round"/>
<line x1="226.5" y1="1202.3" x2="235.0" y2="1202.3" stroke="#141414" stroke-width="3.6" stroke-linecap="round"/>
<line x1="226.5" y1="1127.6" x2="235.0" y2="1127.6" stroke="#141414" stroke-width="3.6" stroke-linecap="round"/>
<line x1="226.5" y1="1052.9" x2="235.0" y2="1052.9" stroke="#141414" stroke-width="3.6" stroke-linecap="round"/>
<text x="57.7" y="995" font-size="84">(c)</text>
<text transform="translate(83.5,1703.5) rotate(-90)" font-size="58" font-weight="bold">N<tspan font-size="34" dy="23">2</tspan><tspan dy="-23"> Volume absrobed (cc/g)</tspan></text>
<text x="411.4" y="1865.5" font-size="58" font-weight="bold">Relative pressure (P/P<tspan dy="12.5">O</tspan><tspan dy="-12.5">)</tspan></text>
<rect x="351.2" y="1075.8" width="423.3" height="313.5" fill="none" stroke="#8c8c8c" stroke-width="2.2"/>
<line x1="373.0" y1="1389.3" x2="373.0" y2="1395.3" stroke="#8c8c8c" stroke-width="2"/>
<line x1="420.1" y1="1389.3" x2="420.1" y2="1395.3" stroke="#8c8c8c" stroke-width="2"/>
<line x1="467.2" y1="1389.3" x2="467.2" y2="1395.3" stroke="#8c8c8c" stroke-width="2"/>
<line x1="514.4" y1="1389.3" x2="514.4" y2="1395.3" stroke="#8c8c8c" stroke-width="2"/>
<line x1="561.5" y1="1389.3" x2="561.5" y2="1395.3" stroke="#8c8c8c" stroke-width="2"/>
<line x1="608.6" y1="1389.3" x2="608.6" y2="1395.3" stroke="#8c8c8c" stroke-width="2"/>
<line x1="655.7" y1="1389.3" x2="655.7" y2="1395.3" stroke="#8c8c8c" stroke-width="2"/>
<line x1="702.8" y1="1389.3" x2="702.8" y2="1395.3" stroke="#8c8c8c" stroke-width="2"/>
<line x1="750.0" y1="1389.3" x2="750.0" y2="1395.3" stroke="#8c8c8c" stroke-width="2"/>
<line x1="396.6" y1="1389.3" x2="396.6" y2="1392.3" stroke="#666" stroke-width="2.2"/>
<line x1="443.7" y1="1389.3" x2="443.7" y2="1392.3" stroke="#666" stroke-width="2.2"/>
<line x1="490.8" y1="1389.3" x2="490.8" y2="1392.3" stroke="#666" stroke-width="2.2"/>
<line x1="537.9" y1="1389.3" x2="537.9" y2="1392.3" stroke="#666" stroke-width="2.2"/>
<line x1="585.0" y1="1389.3" x2="585.0" y2="1392.3" stroke="#666" stroke-width="2.2"/>
<line x1="632.2" y1="1389.3" x2="632.2" y2="1392.3" stroke="#666" stroke-width="2.2"/>
<line x1="679.3" y1="1389.3" x2="679.3" y2="1392.3" stroke="#666" stroke-width="2.2"/>
<line x1="726.4" y1="1389.3" x2="726.4" y2="1392.3" stroke="#666" stroke-width="2.2"/>
<line x1="773.5" y1="1389.3" x2="773.5" y2="1392.3" stroke="#666" stroke-width="2.2"/>
<text x="373.0" y="1413.0" font-size="17" font-weight="bold" text-anchor="middle" fill="#1a1a1a">0</text>
<text x="420.1" y="1413.0" font-size="17" font-weight="bold" text-anchor="middle" fill="#1a1a1a">20</text>
<text x="467.2" y="1413.0" font-size="17" font-weight="bold" text-anchor="middle" fill="#1a1a1a">40</text>
<text x="514.4" y="1413.0" font-size="17" font-weight="bold" text-anchor="middle" fill="#1a1a1a">60</text>
<text x="561.5" y="1413.0" font-size="17" font-weight="bold" text-anchor="middle" fill="#1a1a1a">80</text>
<text x="608.6" y="1413.0" font-size="17" font-weight="bold" text-anchor="middle" fill="#1a1a1a">100</text>
<text x="655.7" y="1413.0" font-size="17" font-weight="bold" text-anchor="middle" fill="#1a1a1a">120</text>
<text x="702.8" y="1413.0" font-size="17" font-weight="bold" text-anchor="middle" fill="#1a1a1a">140</text>
<text x="750.0" y="1413.0" font-size="17" font-weight="bold" text-anchor="middle" fill="#1a1a1a">160</text>
<text x="562.5" y="1449.0" font-size="25.4" font-weight="bold" text-anchor="middle" fill="#111">Pore diameter (nm)</text>
<polyline points="379.1,1363.3 386.9,1353.6 391.8,1343.8 394.2,1324.9 397.1,1330.2 400.3,1294.5 402.7,1304.2 406.4,1283.1 410.0,1286.5 417.3,1257.3 430.7,1236.9 445.7,1220.9 462.3,1196.8 485.3,1157.9 524.2,1114.7 559.5,1188.8 610.5,1233.8 664.0,1290.4 725.9,1341.4" fill="none" stroke="#000" stroke-width="2.0" stroke-linejoin="round"/>
<rect x="375.9" y="1360.0" width="6.5" height="6.5" fill="#000"/>
<rect x="383.6" y="1350.3" width="6.5" height="6.5" fill="#000"/>
<rect x="388.6" y="1340.5" width="6.5" height="6.5" fill="#000"/>
<rect x="390.9" y="1321.7" width="6.5" height="6.5" fill="#000"/>
<rect x="393.9" y="1327.0" width="6.5" height="6.5" fill="#000"/>
<rect x="397.1" y="1291.2" width="6.5" height="6.5" fill="#000"/>
<rect x="399.4" y="1301.0" width="6.5" height="6.5" fill="#000"/>
<rect x="403.1" y="1279.8" width="6.5" height="6.5" fill="#000"/>
<rect x="406.8" y="1283.2" width="6.5" height="6.5" fill="#000"/>
<rect x="414.1" y="1254.0" width="6.5" height="6.5" fill="#000"/>
<rect x="427.4" y="1233.7" width="6.5" height="6.5" fill="#000"/>
<rect x="442.4" y="1217.7" width="6.5" height="6.5" fill="#000"/>
<rect x="459.1" y="1193.5" width="6.5" height="6.5" fill="#000"/>
<rect x="482.1" y="1154.7" width="6.5" height="6.5" fill="#000"/>
<rect x="521.0" y="1111.5" width="6.5" height="6.5" fill="#000"/>
<rect x="556.2" y="1185.5" width="6.5" height="6.5" fill="#000"/>
<rect x="607.2" y="1230.5" width="6.5" height="6.5" fill="#000"/>
<rect x="660.8" y="1287.2" width="6.5" height="6.5" fill="#000"/>
<rect x="722.6" y="1338.2" width="6.5" height="6.5" fill="#000"/>
<text transform="translate(318.5,1378.5) rotate(-90) scale(0.99,1)" font-size="26" font-weight="bold" fill="#111">N<tspan font-size="15" dy="7">2</tspan><tspan dy="-7"> Volume absorbed (cc/g)</tspan></text>
<line x1="605.2" y1="1569" x2="685.8" y2="1569" stroke="#000" stroke-width="4.0"/>
<rect x="635.5" y="1559.5" width="19.5" height="19.5" fill="#000"/>
<text x="694.4" y="1580.5" font-size="40.5" font-weight="bold">ZnO/ZnCo<tspan dy="13.6">2</tspan><tspan dy="-13.6">O</tspan><tspan dy="13.6">4</tspan><tspan dy="-13.6">-600</tspan></text>
<line x1="371.0" y1="1668.4" x2="381.7" y2="1668.2" stroke="#000" stroke-width="4.0"/>
<line x1="411.1" y1="1667.8" x2="421.1" y2="1667.7" stroke="#000" stroke-width="4.0"/>
<line x1="450.5" y1="1667.1" x2="461.8" y2="1666.8" stroke="#000" stroke-width="4.0"/>
<line x1="491.2" y1="1665.4" x2="500.7" y2="1664.6" stroke="#000" stroke-width="4.0"/>
<line x1="530.1" y1="1663.9" x2="543.1" y2="1664.2" stroke="#000" stroke-width="4.0"/>
<line x1="572.5" y1="1663.6" x2="583.2" y2="1663.0" stroke="#000" stroke-width="4.0"/>
<line x1="612.6" y1="1662.2" x2="622.1" y2="1662.2" stroke="#000" stroke-width="4.0"/>
<line x1="651.5" y1="1661.5" x2="663.3" y2="1660.9" stroke="#000" stroke-width="4.0"/>
<line x1="692.7" y1="1659.6" x2="703.3" y2="1659.4" stroke="#000" stroke-width="4.0"/>
<line x1="732.7" y1="1658.4" x2="743.4" y2="1658.1" stroke="#000" stroke-width="4.0"/>
<line x1="772.8" y1="1657.6" x2="783.5" y2="1657.7" stroke="#000" stroke-width="4.0"/>
<line x1="812.9" y1="1657.7" x2="823.8" y2="1657.5" stroke="#000" stroke-width="4.0"/>
<line x1="853.2" y1="1655.6" x2="859.9" y2="1654.8" stroke="#000" stroke-width="4.0"/>
<line x1="889.3" y1="1652.6" x2="895.9" y2="1652.5" stroke="#000" stroke-width="4.0"/>
<line x1="1080.2" y1="1525.0" x2="1088.6" y2="1464.8" stroke="#000" stroke-width="4.0"/>
<line x1="1091.6" y1="1435.4" x2="1094.5" y2="1387.9" stroke="#000" stroke-width="4.0"/>
<line x1="1096.4" y1="1358.5" x2="1100.1" y2="1299.9" stroke="#000" stroke-width="4.0"/>
<line x1="1101.5" y1="1270.5" x2="1102.9" y2="1218.2" stroke="#000" stroke-width="4.0"/>
<line x1="1105.0" y1="1188.8" x2="1109.4" y2="1152.2" stroke="#000" stroke-width="4.0"/>
<line x1="1110.1" y1="1122.8" x2="1109.0" y2="1108.3" stroke="#000" stroke-width="4.0"/>
<line x1="1103.3" y1="1122.4" x2="1101.0" y2="1162.1" stroke="#000" stroke-width="4.0"/>
<line x1="1099.0" y1="1191.5" x2="1096.5" y2="1226.5" stroke="#000" stroke-width="4.0"/>
<line x1="1094.1" y1="1255.9" x2="1090.4" y2="1295.6" stroke="#000" stroke-width="4.0"/>
<line x1="1087.9" y1="1325.0" x2="1082.5" y2="1388.3" stroke="#000" stroke-width="4.0"/>
<line x1="1079.4" y1="1417.7" x2="1072.2" y2="1473.1" stroke="#000" stroke-width="4.0"/>
<line x1="1067.8" y1="1502.5" x2="1063.3" y2="1529.7" stroke="#000" stroke-width="4.0"/>
<line x1="1055.2" y1="1558.8" x2="1049.2" y2="1574.4" stroke="#000" stroke-width="4.0"/>
<line x1="976.1" y1="1641.0" x2="972.5" y2="1641.7" stroke="#000" stroke-width="4.0"/>
<line x1="943.2" y1="1647.2" x2="925.3" y2="1649.9" stroke="#000" stroke-width="4.0"/>
<line x1="895.9" y1="1652.5" x2="889.3" y2="1652.6" stroke="#000" stroke-width="4.0"/>
<line x1="859.9" y1="1654.8" x2="853.2" y2="1655.6" stroke="#000" stroke-width="4.0"/>
<line x1="823.8" y1="1657.5" x2="812.9" y2="1657.7" stroke="#000" stroke-width="4.0"/>
<line x1="783.5" y1="1660.4" x2="772.8" y2="1662.4" stroke="#000" stroke-width="4.0"/>
<line x1="743.4" y1="1662.8" x2="732.7" y2="1661.2" stroke="#000" stroke-width="4.0"/>
<line x1="703.3" y1="1661.9" x2="692.7" y2="1664.1" stroke="#000" stroke-width="4.0"/>
<line x1="663.3" y1="1665.4" x2="651.5" y2="1664.0" stroke="#000" stroke-width="4.0"/>
<line x1="622.1" y1="1665.1" x2="612.6" y2="1666.8" stroke="#000" stroke-width="4.0"/>
<line x1="583.2" y1="1667.7" x2="572.5" y2="1666.4" stroke="#000" stroke-width="4.0"/>
<line x1="543.1" y1="1666.7" x2="524.4" y2="1669.4" stroke="#000" stroke-width="4.0"/>
<rect x="346.6" y="1658.8" width="19.5" height="19.5" fill="#000"/>
<rect x="386.6" y="1658.3" width="19.5" height="19.5" fill="#000"/>
<rect x="426.1" y="1657.7" width="19.5" height="19.5" fill="#000"/>
<rect x="466.8" y="1656.8" width="19.5" height="19.5" fill="#000"/>
<rect x="505.6" y="1653.8" width="19.5" height="19.5" fill="#000"/>
<rect x="548.0" y="1654.8" width="19.5" height="19.5" fill="#000"/>
<rect x="588.1" y="1652.2" width="19.5" height="19.5" fill="#000"/>
<rect x="627.0" y="1652.7" width="19.5" height="19.5" fill="#000"/>
<rect x="668.2" y="1650.2" width="19.5" height="19.5" fill="#000"/>
<rect x="708.2" y="1649.2" width="19.5" height="19.5" fill="#000"/>
<rect x="748.4" y="1647.8" width="19.5" height="19.5" fill="#000"/>
<rect x="788.5" y="1648.0" width="19.5" height="19.5" fill="#000"/>
<rect x="828.8" y="1647.7" width="19.5" height="19.5" fill="#000"/>
<rect x="864.9" y="1643.2" width="19.5" height="19.5" fill="#000"/>
<rect x="900.9" y="1642.3" width="19.5" height="19.5" fill="#000"/>
<rect x="924.9" y="1639.2" width="19.5" height="19.5" fill="#000"/>
<rect x="948.1" y="1635.2" width="19.5" height="19.5" fill="#000"/>
<rect x="962.5" y="1632.0" width="19.5" height="19.5" fill="#000"/>
<rect x="981.0" y="1628.0" width="19.5" height="19.5" fill="#000"/>
<rect x="994.6" y="1624.8" width="19.5" height="19.5" fill="#000"/>
<rect x="1009.0" y="1622.2" width="19.5" height="19.5" fill="#000"/>
<rect x="1033.8" y="1604.8" width="19.5" height="19.5" fill="#000"/>
<rect x="1049.5" y="1577.0" width="19.5" height="19.5" fill="#000"/>
<rect x="1060.5" y="1558.2" width="19.5" height="19.5" fill="#000"/>
<rect x="1068.3" y="1530.0" width="19.5" height="19.5" fill="#000"/>
<rect x="1081.0" y="1440.3" width="19.5" height="19.5" fill="#000"/>
<rect x="1085.7" y="1363.5" width="19.5" height="19.5" fill="#000"/>
<rect x="1091.3" y="1275.5" width="19.5" height="19.5" fill="#000"/>
<rect x="1093.5" y="1193.8" width="19.5" height="19.5" fill="#000"/>
<rect x="1101.3" y="1127.8" width="19.5" height="19.5" fill="#000"/>
<rect x="1098.2" y="1083.8" width="19.5" height="19.5" fill="#000"/>
<rect x="1098.2" y="1083.8" width="19.5" height="19.5" fill="#000"/>
<rect x="1094.5" y="1098.0" width="19.5" height="19.5" fill="#000"/>
<rect x="1090.3" y="1167.0" width="19.5" height="19.5" fill="#000"/>
<rect x="1085.7" y="1231.5" width="19.5" height="19.5" fill="#000"/>
<rect x="1079.3" y="1300.5" width="19.5" height="19.5" fill="#000"/>
<rect x="1071.5" y="1393.2" width="19.5" height="19.5" fill="#000"/>
<rect x="1060.5" y="1478.0" width="19.5" height="19.5" fill="#000"/>
<rect x="1051.0" y="1534.7" width="19.5" height="19.5" fill="#000"/>
<rect x="1033.8" y="1579.0" width="19.5" height="19.5" fill="#000"/>
<rect x="1009.0" y="1604.8" width="19.5" height="19.5" fill="#000"/>
<rect x="994.6" y="1624.8" width="19.5" height="19.5" fill="#000"/>
<rect x="981.0" y="1628.0" width="19.5" height="19.5" fill="#000"/>
<rect x="948.1" y="1635.2" width="19.5" height="19.5" fill="#000"/>
<rect x="900.9" y="1642.3" width="19.5" height="19.5" fill="#000"/>
<rect x="864.9" y="1643.2" width="19.5" height="19.5" fill="#000"/>
<rect x="828.8" y="1647.7" width="19.5" height="19.5" fill="#000"/>
<rect x="788.5" y="1648.0" width="19.5" height="19.5" fill="#000"/>
<rect x="748.4" y="1655.2" width="19.5" height="19.5" fill="#000"/>
<rect x="708.2" y="1649.2" width="19.5" height="19.5" fill="#000"/>
<rect x="668.2" y="1657.2" width="19.5" height="19.5" fill="#000"/>
<rect x="627.0" y="1652.7" width="19.5" height="19.5" fill="#000"/>
<rect x="588.1" y="1659.8" width="19.5" height="19.5" fill="#000"/>
<rect x="548.0" y="1654.8" width="19.5" height="19.5" fill="#000"/>
<rect x="499.9" y="1661.8" width="19.5" height="19.5" fill="#000"/>
<rect x="1096.8" y="1092.2" width="19.5" height="19.5" fill="#000"/>
<rect x="1098.2" y="1110.2" width="19.5" height="19.5" fill="#000"/>
<rect x="1096.2" y="1150.2" width="19.5" height="19.5" fill="#000"/>
<rect x="1471.0" y="1015.6" width="964.0" height="709.4" fill="none" stroke="#141414" stroke-width="3.6"/>
<line x1="1471.0" y1="1725.0" x2="1471.0" y2="1733.5" stroke="#141414" stroke-width="3.6" stroke-linecap="round"/>
<line x1="1551.3" y1="1725.0" x2="1551.3" y2="1740.0" stroke="#141414" stroke-width="3.6" stroke-linecap="round"/>
<text x="1551.3" y="1781.5" font-size="42" font-weight="bold" text-anchor="middle">0.0</text>
<line x1="1631.7" y1="1725.0" x2="1631.7" y2="1733.5" stroke="#141414" stroke-width="3.6" stroke-linecap="round"/>
<line x1="1712.0" y1="1725.0" x2="1712.0" y2="1740.0" stroke="#141414" stroke-width="3.6" stroke-linecap="round"/>
<text x="1712.0" y="1781.5" font-size="42" font-weight="bold" text-anchor="middle">0.2</text>
<line x1="1792.3" y1="1725.0" x2="1792.3" y2="1733.5" stroke="#141414" stroke-width="3.6" stroke-linecap="round"/>
<line x1="1872.7" y1="1725.0" x2="1872.7" y2="1740.0" stroke="#141414" stroke-width="3.6" stroke-linecap="round"/>
<text x="1872.7" y="1781.5" font-size="42" font-weight="bold" text-anchor="middle">0.4</text>
<line x1="1953.0" y1="1725.0" x2="1953.0" y2="1733.5" stroke="#141414" stroke-width="3.6" stroke-linecap="round"/>
<line x1="2033.3" y1="1725.0" x2="2033.3" y2="1740.0" stroke="#141414" stroke-width="3.6" stroke-linecap="round"/>
<text x="2033.3" y="1781.5" font-size="42" font-weight="bold" text-anchor="middle">0.6</text>
<line x1="2113.7" y1="1725.0" x2="2113.7" y2="1733.5" stroke="#141414" stroke-width="3.6" stroke-linecap="round"/>
<line x1="2194.0" y1="1725.0" x2="2194.0" y2="1740.0" stroke="#141414" stroke-width="3.6" stroke-linecap="round"/>
<text x="2194.0" y="1781.5" font-size="42" font-weight="bold" text-anchor="middle">0.8</text>
<line x1="2274.3" y1="1725.0" x2="2274.3" y2="1733.5" stroke="#141414" stroke-width="3.6" stroke-linecap="round"/>
<line x1="2354.7" y1="1725.0" x2="2354.7" y2="1740.0" stroke="#141414" stroke-width="3.6" stroke-linecap="round"/>
<text x="2354.7" y="1781.5" font-size="42" font-weight="bold" text-anchor="middle">1.0</text>
<line x1="2435.0" y1="1725.0" x2="2435.0" y2="1733.5" stroke="#141414" stroke-width="3.6" stroke-linecap="round"/>
<line x1="1455.5" y1="1683.3" x2="1471.0" y2="1683.3" stroke="#141414" stroke-width="3.6" stroke-linecap="round"/>
<text x="1446.5" y="1694.8" font-size="42" font-weight="bold" text-anchor="end">0</text>
<line x1="1455.5" y1="1599.8" x2="1471.0" y2="1599.8" stroke="#141414" stroke-width="3.6" stroke-linecap="round"/>
<text x="1446.5" y="1611.3" font-size="42" font-weight="bold" text-anchor="end">10</text>
<line x1="1455.5" y1="1516.4" x2="1471.0" y2="1516.4" stroke="#141414" stroke-width="3.6" stroke-linecap="round"/>
<text x="1446.5" y="1527.9" font-size="42" font-weight="bold" text-anchor="end">20</text>
<line x1="1455.5" y1="1432.9" x2="1471.0" y2="1432.9" stroke="#141414" stroke-width="3.6" stroke-linecap="round"/>
<text x="1446.5" y="1444.4" font-size="42" font-weight="bold" text-anchor="end">30</text>
<line x1="1455.5" y1="1349.5" x2="1471.0" y2="1349.5" stroke="#141414" stroke-width="3.6" stroke-linecap="round"/>
<text x="1446.5" y="1361.0" font-size="42" font-weight="bold" text-anchor="end">40</text>
<line x1="1455.5" y1="1266.0" x2="1471.0" y2="1266.0" stroke="#141414" stroke-width="3.6" stroke-linecap="round"/>
<text x="1446.5" y="1277.5" font-size="42" font-weight="bold" text-anchor="end">50</text>
<line x1="1455.5" y1="1182.5" x2="1471.0" y2="1182.5" stroke="#141414" stroke-width="3.6" stroke-linecap="round"/>
<text x="1446.5" y="1194.0" font-size="42" font-weight="bold" text-anchor="end">60</text>
<line x1="1455.5" y1="1099.1" x2="1471.0" y2="1099.1" stroke="#141414" stroke-width="3.6" stroke-linecap="round"/>
<text x="1446.5" y="1110.6" font-size="42" font-weight="bold" text-anchor="end">70</text>
<line x1="1455.5" y1="1015.6" x2="1471.0" y2="1015.6" stroke="#141414" stroke-width="3.6" stroke-linecap="round"/>
<text x="1446.5" y="1027.1" font-size="42" font-weight="bold" text-anchor="end">80</text>
<line x1="1462.5" y1="1725.0" x2="1471.0" y2="1725.0" stroke="#141414" stroke-width="3.6" stroke-linecap="round"/>
<line x1="1462.5" y1="1641.6" x2="1471.0" y2="1641.6" stroke="#141414" stroke-width="3.6" stroke-linecap="round"/>
<line x1="1462.5" y1="1558.1" x2="1471.0" y2="1558.1" stroke="#141414" stroke-width="3.6" stroke-linecap="round"/>
<line x1="1462.5" y1="1474.6" x2="1471.0" y2="1474.6" stroke="#141414" stroke-width="3.6" stroke-linecap="round"/>
<line x1="1462.5" y1="1391.2" x2="1471.0" y2="1391.2" stroke="#141414" stroke-width="3.6" stroke-linecap="round"/>
<line x1="1462.5" y1="1307.7" x2="1471.0" y2="1307.7" stroke="#141414" stroke-width="3.6" stroke-linecap="round"/>
<line x1="1462.5" y1="1224.3" x2="1471.0" y2="1224.3" stroke="#141414" stroke-width="3.6" stroke-linecap="round"/>
<line x1="1462.5" y1="1140.8" x2="1471.0" y2="1140.8" stroke="#141414" stroke-width="3.6" stroke-linecap="round"/>
<line x1="1462.5" y1="1057.3" x2="1471.0" y2="1057.3" stroke="#141414" stroke-width="3.6" stroke-linecap="round"/>
<text x="1309.7" y="995" font-size="84">(d)</text>
<text transform="translate(1346.5,1704) rotate(-90)" font-size="58" font-weight="bold">N2 Volume absorbed (cc/g)</text>
<text x="1657.4" y="1865.5" font-size="57.7" font-weight="bold">Relative Pressure (P/P<tspan dy="13">0</tspan><tspan dy="-13">)</tspan></text>
<rect x="1591.0" y="1083.7" width="421.8" height="310.6" fill="none" stroke="#8c8c8c" stroke-width="2.2"/>
<line x1="1590.9" y1="1394.3" x2="1590.9" y2="1400.3" stroke="#8c8c8c" stroke-width="2"/>
<line x1="1631.1" y1="1394.3" x2="1631.1" y2="1400.3" stroke="#8c8c8c" stroke-width="2"/>
<line x1="1671.3" y1="1394.3" x2="1671.3" y2="1400.3" stroke="#8c8c8c" stroke-width="2"/>
<line x1="1711.5" y1="1394.3" x2="1711.5" y2="1400.3" stroke="#8c8c8c" stroke-width="2"/>
<line x1="1751.7" y1="1394.3" x2="1751.7" y2="1400.3" stroke="#8c8c8c" stroke-width="2"/>
<line x1="1791.9" y1="1394.3" x2="1791.9" y2="1400.3" stroke="#8c8c8c" stroke-width="2"/>
<line x1="1832.1" y1="1394.3" x2="1832.1" y2="1400.3" stroke="#8c8c8c" stroke-width="2"/>
<line x1="1872.3" y1="1394.3" x2="1872.3" y2="1400.3" stroke="#8c8c8c" stroke-width="2"/>
<line x1="1912.5" y1="1394.3" x2="1912.5" y2="1400.3" stroke="#8c8c8c" stroke-width="2"/>
<line x1="1952.7" y1="1394.3" x2="1952.7" y2="1400.3" stroke="#8c8c8c" stroke-width="2"/>
<line x1="1992.9" y1="1394.3" x2="1992.9" y2="1400.3" stroke="#8c8c8c" stroke-width="2"/>
<line x1="1611.0" y1="1394.3" x2="1611.0" y2="1397.3" stroke="#666" stroke-width="2.2"/>
<line x1="1651.2" y1="1394.3" x2="1651.2" y2="1397.3" stroke="#666" stroke-width="2.2"/>
<line x1="1691.4" y1="1394.3" x2="1691.4" y2="1397.3" stroke="#666" stroke-width="2.2"/>
<line x1="1731.6" y1="1394.3" x2="1731.6" y2="1397.3" stroke="#666" stroke-width="2.2"/>
<line x1="1771.8" y1="1394.3" x2="1771.8" y2="1397.3" stroke="#666" stroke-width="2.2"/>
<line x1="1812.0" y1="1394.3" x2="1812.0" y2="1397.3" stroke="#666" stroke-width="2.2"/>
<line x1="1852.2" y1="1394.3" x2="1852.2" y2="1397.3" stroke="#666" stroke-width="2.2"/>
<line x1="1892.4" y1="1394.3" x2="1892.4" y2="1397.3" stroke="#666" stroke-width="2.2"/>
<line x1="1932.6" y1="1394.3" x2="1932.6" y2="1397.3" stroke="#666" stroke-width="2.2"/>
<line x1="1972.8" y1="1394.3" x2="1972.8" y2="1397.3" stroke="#666" stroke-width="2.2"/>
<line x1="2013.0" y1="1394.3" x2="2013.0" y2="1397.3" stroke="#666" stroke-width="2.2"/>
<text x="1590.9" y="1417.0" font-size="17" font-weight="bold" text-anchor="middle" fill="#1a1a1a">-20</text>
<text x="1631.1" y="1417.0" font-size="17" font-weight="bold" text-anchor="middle" fill="#1a1a1a">0</text>
<text x="1671.3" y="1417.0" font-size="17" font-weight="bold" text-anchor="middle" fill="#1a1a1a">20</text>
<text x="1711.5" y="1417.0" font-size="17" font-weight="bold" text-anchor="middle" fill="#1a1a1a">40</text>
<text x="1751.7" y="1417.0" font-size="17" font-weight="bold" text-anchor="middle" fill="#1a1a1a">60</text>
<text x="1791.9" y="1417.0" font-size="17" font-weight="bold" text-anchor="middle" fill="#1a1a1a">80</text>
<text x="1832.1" y="1417.0" font-size="17" font-weight="bold" text-anchor="middle" fill="#1a1a1a">100</text>
<text x="1872.3" y="1417.0" font-size="17" font-weight="bold" text-anchor="middle" fill="#1a1a1a">120</text>
<text x="1912.5" y="1417.0" font-size="17" font-weight="bold" text-anchor="middle" fill="#1a1a1a">140</text>
<text x="1952.7" y="1417.0" font-size="17" font-weight="bold" text-anchor="middle" fill="#1a1a1a">160</text>
<text x="1992.9" y="1417.0" font-size="17" font-weight="bold" text-anchor="middle" fill="#1a1a1a">180</text>
<text x="1801.0" y="1455.0" font-size="25.4" font-weight="bold" text-anchor="middle" fill="#111">Pore diameter (nm)</text>
<polyline points="1634.3,1364.9 1635.2,1129.0 1635.8,1231.1 1636.9,1265.5 1639.0,1285.9 1637.9,1297.5 1636.4,1306.9 1643.2,1344.9 1641.1,1350.1 1637.9,1356.4 1642.1,1356.4 1647.0,1364.9 1652.7,1373.3 1655.8,1365.9 1663.2,1372.2 1668.5,1370.1 1679.4,1367.0 1692.7,1360.2 1706.4,1358.5 1725.3,1335.8 1759.0,1288.0 1792.7,1273.9 1835.3,1315.4 1886.4,1339.6 1917.0,1357.5 1969.6,1305.5" fill="none" stroke="#000" stroke-width="2.0" stroke-linejoin="round"/>
<rect x="1631.1" y="1361.6" width="6.5" height="6.5" fill="#000"/>
<rect x="1631.9" y="1125.7" width="6.5" height="6.5" fill="#000"/>
<rect x="1632.6" y="1227.9" width="6.5" height="6.5" fill="#000"/>
<rect x="1633.6" y="1262.2" width="6.5" height="6.5" fill="#000"/>
<rect x="1635.7" y="1282.6" width="6.5" height="6.5" fill="#000"/>
<rect x="1634.7" y="1294.2" width="6.5" height="6.5" fill="#000"/>
<rect x="1633.2" y="1303.7" width="6.5" height="6.5" fill="#000"/>
<rect x="1639.9" y="1341.6" width="6.5" height="6.5" fill="#000"/>
<rect x="1637.8" y="1346.9" width="6.5" height="6.5" fill="#000"/>
<rect x="1634.7" y="1353.2" width="6.5" height="6.5" fill="#000"/>
<rect x="1638.9" y="1353.2" width="6.5" height="6.5" fill="#000"/>
<rect x="1643.7" y="1361.6" width="6.5" height="6.5" fill="#000"/>
<rect x="1649.4" y="1370.0" width="6.5" height="6.5" fill="#000"/>
<rect x="1652.6" y="1362.7" width="6.5" height="6.5" fill="#000"/>
<rect x="1659.9" y="1369.0" width="6.5" height="6.5" fill="#000"/>
<rect x="1665.2" y="1366.9" width="6.5" height="6.5" fill="#000"/>
<rect x="1676.2" y="1363.7" width="6.5" height="6.5" fill="#000"/>
<rect x="1689.4" y="1357.0" width="6.5" height="6.5" fill="#000"/>
<rect x="1703.1" y="1355.3" width="6.5" height="6.5" fill="#000"/>
<rect x="1722.1" y="1332.5" width="6.5" height="6.5" fill="#000"/>
<rect x="1755.8" y="1284.7" width="6.5" height="6.5" fill="#000"/>
<rect x="1789.5" y="1270.6" width="6.5" height="6.5" fill="#000"/>
<rect x="1832.0" y="1312.1" width="6.5" height="6.5" fill="#000"/>
<rect x="1883.2" y="1336.3" width="6.5" height="6.5" fill="#000"/>
<rect x="1913.7" y="1354.2" width="6.5" height="6.5" fill="#000"/>
<rect x="1966.4" y="1302.2" width="6.5" height="6.5" fill="#000"/>
<text transform="translate(1558.0,1385.5) rotate(-90) scale(0.99,1)" font-size="26" font-weight="bold" fill="#111">N<tspan font-size="15" dy="7">2</tspan><tspan dy="-7"> Volume absrobed (cc/g)</tspan></text>
<text x="1823.6" y="1560.4" font-size="40.5" font-weight="bold">ZnO/ZnCo<tspan dy="13.6">2</tspan><tspan dy="-13.6">O</tspan><tspan dy="13.6">4</tspan><tspan dy="-13.6">-800</tspan></text>
<line x1="1607.6" y1="1665.1" x2="1618.3" y2="1664.7" stroke="#000" stroke-width="4.0"/>
<line x1="1647.7" y1="1663.4" x2="1657.9" y2="1662.9" stroke="#000" stroke-width="4.0"/>
<line x1="1687.3" y1="1661.6" x2="1698.4" y2="1661.3" stroke="#000" stroke-width="4.0"/>
<line x1="1727.8" y1="1659.2" x2="1738.5" y2="1658.0" stroke="#000" stroke-width="4.0"/>
<line x1="1767.9" y1="1655.5" x2="1778.5" y2="1654.8" stroke="#000" stroke-width="4.0"/>
<line x1="1807.9" y1="1654.7" x2="1819.7" y2="1655.3" stroke="#000" stroke-width="4.0"/>
<line x1="1849.1" y1="1654.8" x2="1858.6" y2="1654.1" stroke="#000" stroke-width="4.0"/>
<line x1="1888.0" y1="1652.9" x2="1899.3" y2="1653.0" stroke="#000" stroke-width="4.0"/>
<line x1="1928.7" y1="1651.7" x2="1939.9" y2="1650.8" stroke="#000" stroke-width="4.0"/>
<line x1="1969.3" y1="1649.3" x2="1978.8" y2="1649.2" stroke="#000" stroke-width="4.0"/>
<line x1="2008.2" y1="1648.0" x2="2019.5" y2="1647.2" stroke="#000" stroke-width="4.0"/>
<line x1="2048.9" y1="1644.3" x2="2060.2" y2="1642.9" stroke="#000" stroke-width="4.0"/>
<line x1="2089.7" y1="1641.0" x2="2097.2" y2="1641.0" stroke="#000" stroke-width="4.0"/>
<line x1="2126.7" y1="1639.1" x2="2132.3" y2="1638.4" stroke="#000" stroke-width="4.0"/>
<line x1="2300.7" y1="1592.9" x2="2305.9" y2="1576.8" stroke="#000" stroke-width="4.0"/>
<line x1="2313.8" y1="1547.7" x2="2315.4" y2="1541.1" stroke="#000" stroke-width="4.0"/>
<line x1="2319.1" y1="1511.8" x2="2321.6" y2="1409.1" stroke="#000" stroke-width="4.0"/>
<line x1="2324.1" y1="1379.7" x2="2329.6" y2="1342.3" stroke="#000" stroke-width="4.0"/>
<line x1="2333.1" y1="1312.9" x2="2338.5" y2="1254.2" stroke="#000" stroke-width="4.0"/>
<line x1="2340.1" y1="1224.8" x2="2341.3" y2="1158.1" stroke="#000" stroke-width="4.0"/>
<line x1="2343.1" y1="1128.7" x2="2344.8" y2="1112.4" stroke="#000" stroke-width="4.0"/>
<line x1="2343.5" y1="1136.9" x2="2346.0" y2="1221.6" stroke="#000" stroke-width="4.0"/>
<line x1="2340.2" y1="1309.7" x2="2334.3" y2="1379.7" stroke="#000" stroke-width="4.0"/>
<line x1="2332.8" y1="1409.1" x2="2331.9" y2="1462.9" stroke="#000" stroke-width="4.0"/>
<line x1="2330.3" y1="1492.3" x2="2326.6" y2="1529.7" stroke="#000" stroke-width="4.0"/>
<line x1="2319.2" y1="1558.8" x2="2313.1" y2="1573.1" stroke="#000" stroke-width="4.0"/>
<line x1="2294.6" y1="1600.9" x2="2291.4" y2="1604.3" stroke="#000" stroke-width="4.0"/>
<line x1="2212.9" y1="1638.1" x2="2209.0" y2="1639.4" stroke="#000" stroke-width="4.0"/>
<line x1="2179.8" y1="1645.7" x2="2161.7" y2="1647.8" stroke="#000" stroke-width="4.0"/>
<line x1="2132.3" y1="1650.6" x2="2089.6" y2="1653.9" stroke="#000" stroke-width="4.0"/>
<line x1="2060.2" y1="1655.2" x2="2008.2" y2="1655.8" stroke="#000" stroke-width="4.0"/>
<line x1="1978.8" y1="1656.7" x2="1928.7" y2="1659.3" stroke="#000" stroke-width="4.0"/>
<line x1="1899.3" y1="1660.7" x2="1849.1" y2="1663.3" stroke="#000" stroke-width="4.0"/>
<line x1="1819.7" y1="1664.4" x2="1761.0" y2="1666.2" stroke="#000" stroke-width="4.0"/>
<rect x="1583.2" y="1655.8" width="19.5" height="19.5" fill="#000"/>
<rect x="1623.2" y="1654.5" width="19.5" height="19.5" fill="#000"/>
<rect x="1662.8" y="1652.2" width="19.5" height="19.5" fill="#000"/>
<rect x="1703.3" y="1651.2" width="19.5" height="19.5" fill="#000"/>
<rect x="1743.5" y="1646.5" width="19.5" height="19.5" fill="#000"/>
<rect x="1783.5" y="1644.2" width="19.5" height="19.5" fill="#000"/>
<rect x="1824.7" y="1646.2" width="19.5" height="19.5" fill="#000"/>
<rect x="1863.5" y="1643.2" width="19.5" height="19.5" fill="#000"/>
<rect x="1904.2" y="1643.2" width="19.5" height="19.5" fill="#000"/>
<rect x="1944.8" y="1639.8" width="19.5" height="19.5" fill="#000"/>
<rect x="1983.8" y="1639.2" width="19.5" height="19.5" fill="#000"/>
<rect x="2024.5" y="1636.5" width="19.5" height="19.5" fill="#000"/>
<rect x="2065.2" y="1631.2" width="19.5" height="19.5" fill="#000"/>
<rect x="2102.2" y="1631.2" width="19.5" height="19.5" fill="#000"/>
<rect x="2137.2" y="1626.8" width="19.5" height="19.5" fill="#000"/>
<rect x="2161.3" y="1627.2" width="19.5" height="19.5" fill="#000"/>
<rect x="2184.8" y="1621.2" width="19.5" height="19.5" fill="#000"/>
<rect x="2199.8" y="1621.7" width="19.5" height="19.5" fill="#000"/>
<rect x="2217.7" y="1623.8" width="19.5" height="19.5" fill="#000"/>
<rect x="2231.4" y="1617.5" width="19.5" height="19.5" fill="#000"/>
<rect x="2245.8" y="1617.5" width="19.5" height="19.5" fill="#000"/>
<rect x="2269.2" y="1608.0" width="19.5" height="19.5" fill="#000"/>
<rect x="2286.3" y="1597.7" width="19.5" height="19.5" fill="#000"/>
<rect x="2300.8" y="1552.5" width="19.5" height="19.5" fill="#000"/>
<rect x="2308.9" y="1516.8" width="19.5" height="19.5" fill="#000"/>
<rect x="2312.2" y="1384.7" width="19.5" height="19.5" fill="#000"/>
<rect x="2321.9" y="1317.8" width="19.5" height="19.5" fill="#000"/>
<rect x="2330.2" y="1229.8" width="19.5" height="19.5" fill="#000"/>
<rect x="2331.8" y="1133.7" width="19.5" height="19.5" fill="#000"/>
<rect x="2336.7" y="1088.0" width="19.5" height="19.5" fill="#000"/>
<rect x="2336.7" y="1088.0" width="19.5" height="19.5" fill="#000"/>
<rect x="2335.7" y="1083.0" width="19.5" height="19.5" fill="#000"/>
<rect x="2333.3" y="1112.5" width="19.5" height="19.5" fill="#000"/>
<rect x="2336.7" y="1226.5" width="19.5" height="19.5" fill="#000"/>
<rect x="2333.3" y="1255.8" width="19.5" height="19.5" fill="#000"/>
<rect x="2331.8" y="1285.2" width="19.5" height="19.5" fill="#000"/>
<rect x="2323.2" y="1384.7" width="19.5" height="19.5" fill="#000"/>
<rect x="2321.9" y="1467.8" width="19.5" height="19.5" fill="#000"/>
<rect x="2315.4" y="1534.7" width="19.5" height="19.5" fill="#000"/>
<rect x="2297.3" y="1577.8" width="19.5" height="19.5" fill="#000"/>
<rect x="2269.2" y="1608.0" width="19.5" height="19.5" fill="#000"/>
<rect x="2245.8" y="1617.5" width="19.5" height="19.5" fill="#000"/>
<rect x="2217.7" y="1623.8" width="19.5" height="19.5" fill="#000"/>
<rect x="2184.8" y="1634.2" width="19.5" height="19.5" fill="#000"/>
<rect x="2137.2" y="1639.8" width="19.5" height="19.5" fill="#000"/>
<rect x="2065.2" y="1645.2" width="19.5" height="19.5" fill="#000"/>
<rect x="1983.8" y="1646.2" width="19.5" height="19.5" fill="#000"/>
<rect x="1904.2" y="1650.2" width="19.5" height="19.5" fill="#000"/>
<rect x="1824.7" y="1654.2" width="19.5" height="19.5" fill="#000"/>
<rect x="1736.5" y="1656.8" width="19.5" height="19.5" fill="#000"/>
</svg>
</body></html>
